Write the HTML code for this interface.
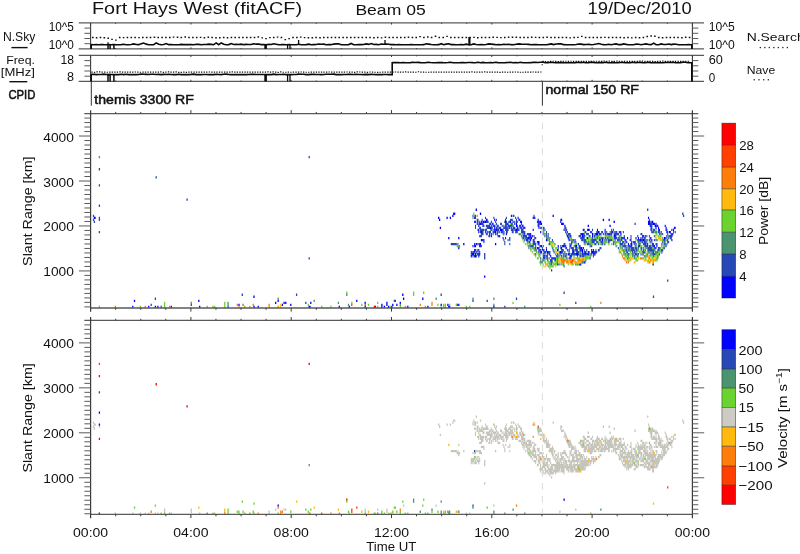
<!DOCTYPE html>
<html lang="en"><head><meta charset="utf-8"><title>Fort Hays West (fitACF) Beam 05 19/Dec/2010</title>
<style>
html,body{margin:0;padding:0;background:#fff;}
body{width:800px;height:554px;overflow:hidden;}
svg{display:block;}
svg text{font-family:"Liberation Sans",sans-serif;}
svg{will-change:transform;opacity:0.999;}
</style></head><body>
<svg width="800" height="554" viewBox="0 0 800 554">
<rect x="0" y="0" width="800" height="554" fill="#ffffff"/>
<defs><clipPath id="cp"><rect x="80" y="114.2" width="620" height="193"/><rect x="80" y="321" width="620" height="193"/></clipPath></defs>
<text x="92.00" y="14.40" font-size="17.4" textLength="210.0" lengthAdjust="spacingAndGlyphs" fill="#111" >Fort Hays West (fitACF)</text>
<text x="355.40" y="15.00" font-size="14.8" textLength="70.3" lengthAdjust="spacingAndGlyphs" fill="#111" >Beam 05</text>
<text x="587.60" y="14.40" font-size="16" textLength="104.0" lengthAdjust="spacingAndGlyphs" fill="#111" >19/Dec/2010</text>
<line x1="78.70" y1="22.90" x2="704.00" y2="22.90" stroke="#5a5a5a" stroke-width="1.1" />
<line x1="78.70" y1="48.90" x2="704.00" y2="48.90" stroke="#5a5a5a" stroke-width="1.1" />
<line x1="90.60" y1="22.90" x2="90.60" y2="48.90" stroke="#3a3a3a" stroke-width="1.1" />
<line x1="692.40" y1="22.90" x2="692.40" y2="48.90" stroke="#3a3a3a" stroke-width="1.1" />
<line x1="84.40" y1="28.10" x2="90.60" y2="28.10" stroke="#5a5a5a" stroke-width="1.0" />
<line x1="692.40" y1="28.10" x2="698.30" y2="28.10" stroke="#5a5a5a" stroke-width="1.0" />
<line x1="84.40" y1="33.30" x2="90.60" y2="33.30" stroke="#5a5a5a" stroke-width="1.0" />
<line x1="692.40" y1="33.30" x2="698.30" y2="33.30" stroke="#5a5a5a" stroke-width="1.0" />
<line x1="84.40" y1="38.50" x2="90.60" y2="38.50" stroke="#5a5a5a" stroke-width="1.0" />
<line x1="692.40" y1="38.50" x2="698.30" y2="38.50" stroke="#5a5a5a" stroke-width="1.0" />
<line x1="84.40" y1="43.70" x2="90.60" y2="43.70" stroke="#5a5a5a" stroke-width="1.0" />
<line x1="692.40" y1="43.70" x2="698.30" y2="43.70" stroke="#5a5a5a" stroke-width="1.0" />
<line x1="90.60" y1="22.90" x2="90.60" y2="24.50" stroke="#3a3a3a" stroke-width="1.0" />
<line x1="90.60" y1="48.90" x2="90.60" y2="47.30" stroke="#3a3a3a" stroke-width="1.0" />
<line x1="115.67" y1="22.90" x2="115.67" y2="23.80" stroke="#3a3a3a" stroke-width="1.0" />
<line x1="115.67" y1="48.90" x2="115.67" y2="48.00" stroke="#3a3a3a" stroke-width="1.0" />
<line x1="140.75" y1="22.90" x2="140.75" y2="23.80" stroke="#3a3a3a" stroke-width="1.0" />
<line x1="140.75" y1="48.90" x2="140.75" y2="48.00" stroke="#3a3a3a" stroke-width="1.0" />
<line x1="165.82" y1="22.90" x2="165.82" y2="23.80" stroke="#3a3a3a" stroke-width="1.0" />
<line x1="165.82" y1="48.90" x2="165.82" y2="48.00" stroke="#3a3a3a" stroke-width="1.0" />
<line x1="190.90" y1="22.90" x2="190.90" y2="24.50" stroke="#3a3a3a" stroke-width="1.0" />
<line x1="190.90" y1="48.90" x2="190.90" y2="47.30" stroke="#3a3a3a" stroke-width="1.0" />
<line x1="215.97" y1="22.90" x2="215.97" y2="23.80" stroke="#3a3a3a" stroke-width="1.0" />
<line x1="215.97" y1="48.90" x2="215.97" y2="48.00" stroke="#3a3a3a" stroke-width="1.0" />
<line x1="241.05" y1="22.90" x2="241.05" y2="23.80" stroke="#3a3a3a" stroke-width="1.0" />
<line x1="241.05" y1="48.90" x2="241.05" y2="48.00" stroke="#3a3a3a" stroke-width="1.0" />
<line x1="266.12" y1="22.90" x2="266.12" y2="23.80" stroke="#3a3a3a" stroke-width="1.0" />
<line x1="266.12" y1="48.90" x2="266.12" y2="48.00" stroke="#3a3a3a" stroke-width="1.0" />
<line x1="291.20" y1="22.90" x2="291.20" y2="24.50" stroke="#3a3a3a" stroke-width="1.0" />
<line x1="291.20" y1="48.90" x2="291.20" y2="47.30" stroke="#3a3a3a" stroke-width="1.0" />
<line x1="316.27" y1="22.90" x2="316.27" y2="23.80" stroke="#3a3a3a" stroke-width="1.0" />
<line x1="316.27" y1="48.90" x2="316.27" y2="48.00" stroke="#3a3a3a" stroke-width="1.0" />
<line x1="341.35" y1="22.90" x2="341.35" y2="23.80" stroke="#3a3a3a" stroke-width="1.0" />
<line x1="341.35" y1="48.90" x2="341.35" y2="48.00" stroke="#3a3a3a" stroke-width="1.0" />
<line x1="366.42" y1="22.90" x2="366.42" y2="23.80" stroke="#3a3a3a" stroke-width="1.0" />
<line x1="366.42" y1="48.90" x2="366.42" y2="48.00" stroke="#3a3a3a" stroke-width="1.0" />
<line x1="391.50" y1="22.90" x2="391.50" y2="24.50" stroke="#3a3a3a" stroke-width="1.0" />
<line x1="391.50" y1="48.90" x2="391.50" y2="47.30" stroke="#3a3a3a" stroke-width="1.0" />
<line x1="416.57" y1="22.90" x2="416.57" y2="23.80" stroke="#3a3a3a" stroke-width="1.0" />
<line x1="416.57" y1="48.90" x2="416.57" y2="48.00" stroke="#3a3a3a" stroke-width="1.0" />
<line x1="441.65" y1="22.90" x2="441.65" y2="23.80" stroke="#3a3a3a" stroke-width="1.0" />
<line x1="441.65" y1="48.90" x2="441.65" y2="48.00" stroke="#3a3a3a" stroke-width="1.0" />
<line x1="466.73" y1="22.90" x2="466.73" y2="23.80" stroke="#3a3a3a" stroke-width="1.0" />
<line x1="466.73" y1="48.90" x2="466.73" y2="48.00" stroke="#3a3a3a" stroke-width="1.0" />
<line x1="491.80" y1="22.90" x2="491.80" y2="24.50" stroke="#3a3a3a" stroke-width="1.0" />
<line x1="491.80" y1="48.90" x2="491.80" y2="47.30" stroke="#3a3a3a" stroke-width="1.0" />
<line x1="516.88" y1="22.90" x2="516.88" y2="23.80" stroke="#3a3a3a" stroke-width="1.0" />
<line x1="516.88" y1="48.90" x2="516.88" y2="48.00" stroke="#3a3a3a" stroke-width="1.0" />
<line x1="541.95" y1="22.90" x2="541.95" y2="23.80" stroke="#3a3a3a" stroke-width="1.0" />
<line x1="541.95" y1="48.90" x2="541.95" y2="48.00" stroke="#3a3a3a" stroke-width="1.0" />
<line x1="567.02" y1="22.90" x2="567.02" y2="23.80" stroke="#3a3a3a" stroke-width="1.0" />
<line x1="567.02" y1="48.90" x2="567.02" y2="48.00" stroke="#3a3a3a" stroke-width="1.0" />
<line x1="592.10" y1="22.90" x2="592.10" y2="24.50" stroke="#3a3a3a" stroke-width="1.0" />
<line x1="592.10" y1="48.90" x2="592.10" y2="47.30" stroke="#3a3a3a" stroke-width="1.0" />
<line x1="617.17" y1="22.90" x2="617.17" y2="23.80" stroke="#3a3a3a" stroke-width="1.0" />
<line x1="617.17" y1="48.90" x2="617.17" y2="48.00" stroke="#3a3a3a" stroke-width="1.0" />
<line x1="642.25" y1="22.90" x2="642.25" y2="23.80" stroke="#3a3a3a" stroke-width="1.0" />
<line x1="642.25" y1="48.90" x2="642.25" y2="48.00" stroke="#3a3a3a" stroke-width="1.0" />
<line x1="667.33" y1="22.90" x2="667.33" y2="23.80" stroke="#3a3a3a" stroke-width="1.0" />
<line x1="667.33" y1="48.90" x2="667.33" y2="48.00" stroke="#3a3a3a" stroke-width="1.0" />
<line x1="692.40" y1="22.90" x2="692.40" y2="24.50" stroke="#3a3a3a" stroke-width="1.0" />
<line x1="692.40" y1="48.90" x2="692.40" y2="47.30" stroke="#3a3a3a" stroke-width="1.0" />
<line x1="78.70" y1="55.40" x2="704.00" y2="55.40" stroke="#5a5a5a" stroke-width="1.1" />
<line x1="78.70" y1="81.40" x2="704.00" y2="81.40" stroke="#5a5a5a" stroke-width="1.1" />
<line x1="90.60" y1="55.40" x2="90.60" y2="81.40" stroke="#3a3a3a" stroke-width="1.1" />
<line x1="692.40" y1="55.40" x2="692.40" y2="81.40" stroke="#3a3a3a" stroke-width="1.1" />
<line x1="84.40" y1="60.60" x2="90.60" y2="60.60" stroke="#5a5a5a" stroke-width="1.0" />
<line x1="692.40" y1="60.60" x2="698.30" y2="60.60" stroke="#5a5a5a" stroke-width="1.0" />
<line x1="84.40" y1="65.80" x2="90.60" y2="65.80" stroke="#5a5a5a" stroke-width="1.0" />
<line x1="692.40" y1="65.80" x2="698.30" y2="65.80" stroke="#5a5a5a" stroke-width="1.0" />
<line x1="84.40" y1="71.00" x2="90.60" y2="71.00" stroke="#5a5a5a" stroke-width="1.0" />
<line x1="692.40" y1="71.00" x2="698.30" y2="71.00" stroke="#5a5a5a" stroke-width="1.0" />
<line x1="84.40" y1="76.20" x2="90.60" y2="76.20" stroke="#5a5a5a" stroke-width="1.0" />
<line x1="692.40" y1="76.20" x2="698.30" y2="76.20" stroke="#5a5a5a" stroke-width="1.0" />
<line x1="90.60" y1="55.40" x2="90.60" y2="57.00" stroke="#3a3a3a" stroke-width="1.0" />
<line x1="90.60" y1="81.40" x2="90.60" y2="79.80" stroke="#3a3a3a" stroke-width="1.0" />
<line x1="115.67" y1="55.40" x2="115.67" y2="56.30" stroke="#3a3a3a" stroke-width="1.0" />
<line x1="115.67" y1="81.40" x2="115.67" y2="80.50" stroke="#3a3a3a" stroke-width="1.0" />
<line x1="140.75" y1="55.40" x2="140.75" y2="56.30" stroke="#3a3a3a" stroke-width="1.0" />
<line x1="140.75" y1="81.40" x2="140.75" y2="80.50" stroke="#3a3a3a" stroke-width="1.0" />
<line x1="165.82" y1="55.40" x2="165.82" y2="56.30" stroke="#3a3a3a" stroke-width="1.0" />
<line x1="165.82" y1="81.40" x2="165.82" y2="80.50" stroke="#3a3a3a" stroke-width="1.0" />
<line x1="190.90" y1="55.40" x2="190.90" y2="57.00" stroke="#3a3a3a" stroke-width="1.0" />
<line x1="190.90" y1="81.40" x2="190.90" y2="79.80" stroke="#3a3a3a" stroke-width="1.0" />
<line x1="215.97" y1="55.40" x2="215.97" y2="56.30" stroke="#3a3a3a" stroke-width="1.0" />
<line x1="215.97" y1="81.40" x2="215.97" y2="80.50" stroke="#3a3a3a" stroke-width="1.0" />
<line x1="241.05" y1="55.40" x2="241.05" y2="56.30" stroke="#3a3a3a" stroke-width="1.0" />
<line x1="241.05" y1="81.40" x2="241.05" y2="80.50" stroke="#3a3a3a" stroke-width="1.0" />
<line x1="266.12" y1="55.40" x2="266.12" y2="56.30" stroke="#3a3a3a" stroke-width="1.0" />
<line x1="266.12" y1="81.40" x2="266.12" y2="80.50" stroke="#3a3a3a" stroke-width="1.0" />
<line x1="291.20" y1="55.40" x2="291.20" y2="57.00" stroke="#3a3a3a" stroke-width="1.0" />
<line x1="291.20" y1="81.40" x2="291.20" y2="79.80" stroke="#3a3a3a" stroke-width="1.0" />
<line x1="316.27" y1="55.40" x2="316.27" y2="56.30" stroke="#3a3a3a" stroke-width="1.0" />
<line x1="316.27" y1="81.40" x2="316.27" y2="80.50" stroke="#3a3a3a" stroke-width="1.0" />
<line x1="341.35" y1="55.40" x2="341.35" y2="56.30" stroke="#3a3a3a" stroke-width="1.0" />
<line x1="341.35" y1="81.40" x2="341.35" y2="80.50" stroke="#3a3a3a" stroke-width="1.0" />
<line x1="366.42" y1="55.40" x2="366.42" y2="56.30" stroke="#3a3a3a" stroke-width="1.0" />
<line x1="366.42" y1="81.40" x2="366.42" y2="80.50" stroke="#3a3a3a" stroke-width="1.0" />
<line x1="391.50" y1="55.40" x2="391.50" y2="57.00" stroke="#3a3a3a" stroke-width="1.0" />
<line x1="391.50" y1="81.40" x2="391.50" y2="79.80" stroke="#3a3a3a" stroke-width="1.0" />
<line x1="416.57" y1="55.40" x2="416.57" y2="56.30" stroke="#3a3a3a" stroke-width="1.0" />
<line x1="416.57" y1="81.40" x2="416.57" y2="80.50" stroke="#3a3a3a" stroke-width="1.0" />
<line x1="441.65" y1="55.40" x2="441.65" y2="56.30" stroke="#3a3a3a" stroke-width="1.0" />
<line x1="441.65" y1="81.40" x2="441.65" y2="80.50" stroke="#3a3a3a" stroke-width="1.0" />
<line x1="466.73" y1="55.40" x2="466.73" y2="56.30" stroke="#3a3a3a" stroke-width="1.0" />
<line x1="466.73" y1="81.40" x2="466.73" y2="80.50" stroke="#3a3a3a" stroke-width="1.0" />
<line x1="491.80" y1="55.40" x2="491.80" y2="57.00" stroke="#3a3a3a" stroke-width="1.0" />
<line x1="491.80" y1="81.40" x2="491.80" y2="79.80" stroke="#3a3a3a" stroke-width="1.0" />
<line x1="516.88" y1="55.40" x2="516.88" y2="56.30" stroke="#3a3a3a" stroke-width="1.0" />
<line x1="516.88" y1="81.40" x2="516.88" y2="80.50" stroke="#3a3a3a" stroke-width="1.0" />
<line x1="541.95" y1="55.40" x2="541.95" y2="56.30" stroke="#3a3a3a" stroke-width="1.0" />
<line x1="541.95" y1="81.40" x2="541.95" y2="80.50" stroke="#3a3a3a" stroke-width="1.0" />
<line x1="567.02" y1="55.40" x2="567.02" y2="56.30" stroke="#3a3a3a" stroke-width="1.0" />
<line x1="567.02" y1="81.40" x2="567.02" y2="80.50" stroke="#3a3a3a" stroke-width="1.0" />
<line x1="592.10" y1="55.40" x2="592.10" y2="57.00" stroke="#3a3a3a" stroke-width="1.0" />
<line x1="592.10" y1="81.40" x2="592.10" y2="79.80" stroke="#3a3a3a" stroke-width="1.0" />
<line x1="617.17" y1="55.40" x2="617.17" y2="56.30" stroke="#3a3a3a" stroke-width="1.0" />
<line x1="617.17" y1="81.40" x2="617.17" y2="80.50" stroke="#3a3a3a" stroke-width="1.0" />
<line x1="642.25" y1="55.40" x2="642.25" y2="56.30" stroke="#3a3a3a" stroke-width="1.0" />
<line x1="642.25" y1="81.40" x2="642.25" y2="80.50" stroke="#3a3a3a" stroke-width="1.0" />
<line x1="667.33" y1="55.40" x2="667.33" y2="56.30" stroke="#3a3a3a" stroke-width="1.0" />
<line x1="667.33" y1="81.40" x2="667.33" y2="80.50" stroke="#3a3a3a" stroke-width="1.0" />
<line x1="692.40" y1="55.40" x2="692.40" y2="57.00" stroke="#3a3a3a" stroke-width="1.0" />
<line x1="692.40" y1="81.40" x2="692.40" y2="79.80" stroke="#3a3a3a" stroke-width="1.0" />
<text x="73.90" y="31.00" font-size="13.2" text-anchor="end" textLength="25.2" lengthAdjust="spacingAndGlyphs" fill="#111" >10^5</text>
<text x="73.90" y="48.90" font-size="13.2" text-anchor="end" textLength="25.2" lengthAdjust="spacingAndGlyphs" fill="#111" >10^0</text>
<text x="73.90" y="63.80" font-size="13.4" text-anchor="end" textLength="13.5" lengthAdjust="spacingAndGlyphs" fill="#111" >18</text>
<text x="73.90" y="81.40" font-size="13.4" text-anchor="end" textLength="7.0" lengthAdjust="spacingAndGlyphs" fill="#111" >8</text>
<text x="2.90" y="41.40" font-size="12" textLength="32.5" lengthAdjust="spacingAndGlyphs" fill="#111" >N.Sky</text>
<line x1="11.40" y1="47.60" x2="27.60" y2="47.60" stroke="#111" stroke-width="1.4" />
<text x="6.20" y="64.20" font-size="11.5" textLength="28.7" lengthAdjust="spacingAndGlyphs" fill="#111" >Freq.</text>
<text x="0.80" y="76.20" font-size="11.5" textLength="34.1" lengthAdjust="spacingAndGlyphs" fill="#111" >[MHz]</text>
<line x1="9.40" y1="81.70" x2="27.30" y2="81.70" stroke="#111" stroke-width="1.4" />
<text x="8.40" y="99.20" font-size="12" textLength="27.0" lengthAdjust="spacingAndGlyphs" fill="#111" stroke="#111" stroke-width="0.5">CPID</text>
<text x="708.80" y="31.40" font-size="13.2" textLength="26.0" lengthAdjust="spacingAndGlyphs" fill="#111" >10^5</text>
<text x="708.80" y="48.90" font-size="13.2" textLength="26.0" lengthAdjust="spacingAndGlyphs" fill="#111" >10^0</text>
<text x="708.80" y="64.20" font-size="13.4" textLength="14.1" lengthAdjust="spacingAndGlyphs" fill="#111" >60</text>
<text x="708.80" y="81.50" font-size="13.4" textLength="6.5" lengthAdjust="spacingAndGlyphs" fill="#111" >0</text>
<text x="746.70" y="41.00" font-size="11.8" textLength="58.0" lengthAdjust="spacingAndGlyphs" fill="#111" >N.Search</text>
<text x="746.70" y="73.50" font-size="11.8" textLength="28.5" lengthAdjust="spacingAndGlyphs" fill="#111" >Nave</text>
<rect x="759.70" y="46.90" width="1.30" height="1.30" fill="#222" />
<rect x="764.20" y="46.90" width="1.30" height="1.30" fill="#222" />
<rect x="768.70" y="46.90" width="1.30" height="1.30" fill="#222" />
<rect x="773.20" y="46.90" width="1.30" height="1.30" fill="#222" />
<rect x="777.70" y="46.90" width="1.30" height="1.30" fill="#222" />
<rect x="782.20" y="46.90" width="1.30" height="1.30" fill="#222" />
<rect x="786.70" y="46.90" width="1.30" height="1.30" fill="#222" />
<rect x="753.60" y="79.10" width="1.30" height="1.30" fill="#222" />
<rect x="758.30" y="79.10" width="1.30" height="1.30" fill="#222" />
<rect x="763.00" y="79.10" width="1.30" height="1.30" fill="#222" />
<rect x="767.70" y="79.10" width="1.30" height="1.30" fill="#222" />
<path d="M91.2 44.67 L93.7 44.70 L96.2 44.45 L98.7 44.70 L101.2 44.56 L103.7 44.66 L106.2 44.70 L108.7 44.58 L111.2 44.70 L113.7 44.63 L116.2 44.70 L118.7 44.70 L121.2 44.63 L123.7 44.19 L126.2 44.70 L128.7 44.69 L131.2 44.48 L133.7 43.93 L136.2 44.53 L138.7 44.64 L141.2 43.86 L143.7 43.10 L146.2 44.13 L148.7 44.68 L151.2 44.70 L153.7 44.70 L156.2 42.90 L158.7 44.21 L161.2 44.69 L163.7 44.52 L166.2 43.50 L168.7 44.65 L171.2 44.55 L173.7 44.70 L176.2 44.70 L178.7 44.69 L181.2 44.42 L183.7 44.63 L186.2 44.67 L188.7 44.52 L191.2 44.62 L193.7 44.68 L196.2 44.25 L198.7 44.39 L201.2 44.69 L203.7 44.53 L206.2 44.57 L208.7 44.10 L211.2 44.35 L213.7 44.68 L216.2 42.90 L218.7 44.70 L221.2 42.90 L223.7 44.31 L226.2 44.70 L228.7 44.59 L231.2 43.50 L233.7 44.43 L236.2 44.30 L238.7 44.53 L241.2 44.10 L243.7 44.67 L246.2 44.40 L248.7 44.51 L251.2 44.52 L253.7 43.70 L256.2 44.17 L258.7 43.94 L261.2 44.60 L263.7 44.44 L266.2 44.70 L268.7 44.39 L271.2 44.46 L273.7 43.82 L276.2 44.20 L278.7 44.68 L281.2 44.65 L283.7 44.43 L286.2 44.70 L288.7 44.61 L291.2 44.70 L293.7 44.70 L296.2 44.70 L298.7 44.29 L301.2 44.70 L303.7 44.69 L306.2 44.65 L308.7 44.10 L311.2 44.70 L313.7 44.62 L316.2 44.55 L318.7 44.08 L321.2 44.21 L323.7 44.12 L326.2 44.68 L328.7 44.64 L331.2 44.66 L333.7 44.08 L336.2 43.91 L338.7 43.70 L341.2 44.70 L343.7 44.69 L346.2 44.69 L348.7 44.60 L351.2 43.50 L353.7 44.68 L356.2 44.70 L358.7 44.63 L361.2 44.65 L363.7 44.54 L366.2 43.92 L368.7 44.40 L371.2 43.50 L373.7 44.49 L376.2 44.42 L378.7 44.70 L381.2 44.04 L383.7 44.27 L386.2 44.10 L388.7 44.24 L391.2 44.65 L393.7 44.64 L396.2 44.70 L398.7 44.47 L401.2 44.70 L403.7 44.70 L406.2 44.69 L408.7 44.70 L411.2 44.66 L413.7 44.70 L416.2 44.70 L418.7 44.70 L421.2 44.70 L423.7 44.66 L426.2 43.70 L428.7 44.10 L431.2 44.49 L433.7 44.70 L436.2 44.69 L438.7 44.66 L441.2 43.70 L443.7 44.70 L446.2 44.15 L448.7 43.82 L451.2 44.61 L453.7 44.60 L456.2 44.70 L458.7 44.70 L461.2 44.66 L463.7 44.68 L466.2 44.19 L468.7 44.70 L471.2 44.70 L473.7 43.93 L476.2 44.57 L478.7 44.70 L481.2 44.56 L483.7 44.70 L486.2 44.57 L488.7 43.86 L491.2 44.12 L493.7 44.40 L496.2 44.68 L498.7 44.66 L501.2 44.70 L503.7 44.29 L506.2 44.56 L508.7 44.27 L511.2 44.67 L513.7 44.69 L516.2 44.22 L518.7 43.84 L521.2 44.14 L523.7 44.23 L526.2 44.21 L528.7 44.34 L531.2 44.69 L533.7 44.58 L536.2 44.66 L538.7 44.70 L541.2 44.70 L543.7 44.68 L546.2 44.68 L548.7 44.40 L551.2 43.91 L553.7 44.62 L556.2 43.96 L558.7 43.83 L561.2 43.92 L563.7 44.66 L566.2 44.69 L568.7 44.69 L571.2 44.69 L573.7 44.69 L576.2 44.48 L578.7 44.04 L581.2 44.17 L583.7 44.60 L586.2 44.45 L588.7 44.24 L591.2 44.70 L593.7 44.44 L596.2 44.02 L598.7 43.50 L601.2 44.32 L603.7 44.60 L606.2 44.69 L608.7 44.26 L611.2 44.67 L613.7 44.24 L616.2 43.87 L618.7 44.64 L621.2 44.64 L623.7 43.94 L626.2 44.36 L628.7 44.70 L631.2 44.70 L633.7 44.70 L636.2 44.03 L638.7 44.23 L641.2 44.70 L643.7 44.19 L646.2 43.85 L648.7 44.44 L651.2 44.66 L653.7 43.10 L656.2 44.70 L658.7 44.70 L661.2 43.88 L663.7 44.45 L666.2 44.57 L668.7 43.97 L671.2 44.63 L673.7 44.10 L676.2 44.19 L678.7 44.69 L681.2 44.69 L683.7 44.68 L686.2 44.69 L688.7 44.52 L691.2 44.68 L692.0 44.70" stroke="#0a0a0a" stroke-width="1.6" fill="none" stroke-linejoin="miter" />
<line x1="91.20" y1="44.10" x2="91.20" y2="48.90" stroke="#0a0a0a" stroke-width="1.6" />
<line x1="108.00" y1="44.10" x2="108.00" y2="48.90" stroke="#0a0a0a" stroke-width="1.5" />
<line x1="110.10" y1="44.10" x2="110.10" y2="48.90" stroke="#0a0a0a" stroke-width="1.5" />
<line x1="113.90" y1="44.10" x2="113.90" y2="48.90" stroke="#0a0a0a" stroke-width="1.5" />
<line x1="265.60" y1="44.10" x2="265.60" y2="48.90" stroke="#0a0a0a" stroke-width="2.6" />
<line x1="287.60" y1="44.10" x2="287.60" y2="48.90" stroke="#0a0a0a" stroke-width="1.3" />
<line x1="290.00" y1="44.10" x2="290.00" y2="48.90" stroke="#0a0a0a" stroke-width="1.3" />
<line x1="691.80" y1="44.10" x2="691.80" y2="48.90" stroke="#0a0a0a" stroke-width="1.6" />
<line x1="108.00" y1="42.20" x2="108.00" y2="44.70" stroke="#0a0a0a" stroke-width="1.2" />
<line x1="469.40" y1="37.00" x2="469.40" y2="45.30" stroke="#0a0a0a" stroke-width="2.2" />
<line x1="298.60" y1="40.00" x2="298.60" y2="44.70" stroke="#0a0a0a" stroke-width="1.3" />
<line x1="385.00" y1="40.00" x2="385.00" y2="44.70" stroke="#0a0a0a" stroke-width="1.3" />
<path d="M92.0 37.46h1.6M95.8 37.76h1.6M99.7 37.43h1.6M103.5 37.75h1.6M107.4 38.30h1.6M111.2 39.40h1.6M115.1 40.10h1.6M118.9 37.45h1.6M122.8 37.63h1.6M126.6 37.43h1.6M130.5 37.49h1.6M134.3 37.42h1.6M138.2 37.62h1.6M142.0 37.49h1.6M145.9 37.45h1.6M149.7 37.42h1.6M153.6 37.30h1.6M157.4 37.43h1.6M161.3 37.42h1.6M165.1 37.55h1.6M169.0 37.49h1.6M172.8 37.10h1.6M176.7 37.18h1.6M180.5 37.45h1.6M184.4 37.09h1.6M188.2 37.45h1.6M192.1 37.47h1.6M195.9 37.45h1.6M199.8 37.36h1.6M203.6 37.74h1.6M207.5 37.33h1.6M211.3 37.45h1.6M215.2 37.84h1.6M219.0 37.82h1.6M222.9 37.42h1.6M226.7 37.67h1.6M230.6 37.43h1.6M234.4 37.46h1.6M238.3 37.45h1.6M242.1 37.45h1.6M246.0 37.47h1.6M249.8 37.44h1.6M253.7 37.48h1.6M257.5 37.03h1.6M261.4 37.85h1.6M265.2 38.60h1.6M269.1 37.62h1.6M272.9 37.45h1.6M276.8 37.14h1.6M280.6 37.45h1.6M284.5 39.60h1.6M288.3 38.60h1.6M292.2 37.45h1.6M296.1 37.46h1.6M299.9 37.10h1.6M303.8 37.64h1.6M307.6 37.69h1.6M311.5 37.70h1.6M315.3 37.44h1.6M319.2 37.78h1.6M323.0 37.45h1.6M326.9 37.45h1.6M330.7 37.45h1.6M334.6 37.45h1.6M338.4 37.45h1.6M342.3 37.45h1.6M346.1 37.45h1.6M350.0 37.45h1.6M353.8 37.45h1.6M357.7 37.49h1.6M361.5 37.43h1.6M365.4 37.45h1.6M369.2 37.47h1.6M373.1 37.67h1.6M376.9 37.42h1.6M380.8 37.87h1.6M384.6 37.23h1.6M388.5 37.52h1.6M392.3 37.46h1.6M396.2 37.45h1.6M400.0 37.59h1.6M403.9 37.45h1.6M407.7 37.22h1.6M411.6 37.54h1.6M415.4 37.45h1.6M419.3 36.60h1.6M423.1 37.47h1.6M427.0 37.06h1.6M430.8 37.49h1.6M434.7 36.30h1.6M438.5 37.46h1.6M442.4 37.46h1.6M446.2 36.40h1.6M450.1 37.48h1.6M453.9 37.45h1.6M457.8 37.46h1.6M461.6 37.45h1.6M465.5 37.45h1.6M469.3 37.41h1.6M473.2 37.37h1.6M477.0 37.72h1.6M480.9 37.44h1.6M484.7 37.45h1.6M488.6 37.53h1.6M492.4 37.23h1.6M496.3 37.38h1.6M500.1 37.65h1.6M504.0 37.42h1.6M507.8 37.23h1.6M511.7 37.24h1.6M515.5 37.16h1.6M519.4 37.55h1.6M523.2 37.45h1.6M527.1 37.46h1.6M530.9 37.23h1.6M534.8 37.38h1.6M538.6 37.55h1.6M542.5 37.45h1.6M546.3 37.31h1.6M550.2 37.41h1.6M554.0 37.45h1.6M557.9 37.45h1.6M561.7 37.45h1.6M565.6 37.45h1.6M569.4 37.86h1.6M573.3 37.46h1.6M577.1 37.35h1.6M581.0 36.40h1.6M584.8 37.45h1.6M588.7 37.45h1.6M592.5 37.45h1.6M596.4 37.45h1.6M600.2 37.45h1.6M604.1 37.35h1.6M607.9 37.45h1.6M611.8 37.47h1.6M615.6 37.45h1.6M619.5 37.45h1.6M623.3 37.80h1.6M627.2 37.43h1.6M631.0 37.85h1.6M634.9 37.45h1.6M638.7 37.81h1.6M642.6 37.50h1.6M646.4 36.50h1.6M650.3 36.00h1.6M654.1 36.20h1.6M658.0 37.56h1.6M661.8 37.74h1.6M665.7 37.45h1.6M669.5 37.48h1.6M673.4 37.45h1.6M677.2 37.46h1.6M681.1 37.67h1.6M684.9 37.31h1.6M688.8 37.45h1.6" stroke="#111" stroke-width="1.44" fill="none"/>
<path d="M91.2 74.42 L93.7 74.23 L96.2 74.59 L98.7 74.57 L101.2 74.57 L103.7 74.10 L106.2 74.50 L108.7 74.58 L111.2 74.56 L113.7 74.59 L116.2 74.60 L118.7 74.60 L121.2 74.31 L123.7 74.59 L126.2 74.19 L128.7 74.59 L131.2 74.59 L133.7 74.53 L136.2 74.60 L138.7 74.57 L141.2 74.16 L143.7 74.25 L146.2 74.33 L148.7 74.47 L151.2 74.22 L153.7 74.18 L156.2 74.52 L158.7 74.41 L161.2 74.60 L163.7 74.40 L166.2 74.55 L168.7 74.39 L171.2 74.47 L173.7 74.59 L176.2 74.60 L178.7 74.20 L181.2 74.60 L183.7 74.55 L186.2 74.58 L188.7 74.59 L191.2 74.40 L193.7 74.13 L196.2 74.59 L198.7 74.46 L201.2 74.59 L203.7 74.51 L206.2 74.57 L208.7 74.60 L211.2 74.60 L213.7 74.60 L216.2 74.23 L218.7 74.54 L221.2 74.59 L223.7 74.23 L226.2 74.11 L228.7 74.55 L231.2 74.60 L233.7 74.60 L236.2 74.60 L238.7 74.58 L241.2 74.60 L243.7 74.59 L246.2 74.59 L248.7 74.51 L251.2 74.25 L253.7 74.39 L256.2 74.56 L258.7 74.56 L261.2 74.53 L263.7 74.57 L266.2 74.58 L268.7 74.60 L271.2 74.59 L273.7 74.15 L276.2 74.60 L278.7 74.54 L281.2 74.48 L283.7 74.28 L286.2 74.59 L288.7 74.59 L291.2 74.59 L293.7 74.57 L296.2 74.56 L298.7 74.17 L301.2 74.29 L303.7 74.27 L306.2 74.60 L308.7 74.60 L311.2 74.42 L313.7 74.24 L316.2 74.55 L318.7 74.50 L321.2 74.60 L323.7 74.57 L326.2 74.20 L328.7 74.32 L331.2 74.29 L333.7 74.14 L336.2 74.59 L338.7 74.60 L341.2 74.60 L343.7 74.53 L346.2 74.44 L348.7 74.18 L351.2 74.41 L353.7 74.46 L356.2 74.38 L358.7 74.55 L361.2 74.52 L363.7 74.60 L366.2 74.36 L368.7 74.59 L371.2 74.21 L373.7 74.47 L376.2 74.59 L378.7 74.60 L381.2 74.59 L383.7 74.47 L386.2 74.43 L388.7 74.60 L391.2 74.60 L391.6 74.60 L392.2 74.60 L392.2 62.70 L393.0 62.63 L395.5 62.60 L398.0 62.67 L400.5 62.69 L403.0 62.59 L405.5 62.70 L408.0 62.69 L410.5 62.65 L413.0 62.26 L415.5 62.57 L418.0 62.35 L420.5 62.65 L423.0 62.69 L425.5 62.69 L428.0 62.26 L430.5 62.53 L433.0 62.69 L435.5 62.70 L438.0 62.64 L440.5 62.55 L443.0 62.66 L445.5 62.69 L448.0 62.55 L450.5 62.30 L453.0 62.69 L455.5 62.70 L458.0 62.68 L460.5 62.66 L463.0 62.54 L465.5 62.70 L468.0 62.45 L470.5 62.50 L473.0 62.64 L475.5 62.70 L478.0 62.24 L480.5 62.68 L483.0 62.42 L485.5 62.69 L488.0 62.69 L490.5 62.48 L493.0 62.69 L495.5 62.27 L498.0 62.64 L500.5 62.70 L503.0 62.69 L505.5 62.66 L508.0 62.55 L510.5 62.27 L513.0 62.70 L515.5 62.67 L518.0 62.70 L520.5 62.24 L523.0 62.70 L525.5 62.70 L528.0 62.70 L530.5 62.67 L533.0 62.34 L535.5 62.36 L538.0 62.50 L540.5 62.20 L543.0 62.30 L545.5 62.68 L548.0 62.70 L550.5 62.29 L553.0 62.49 L555.5 62.70 L558.0 62.55 L560.5 62.67 L563.0 62.67 L565.5 62.68 L568.0 62.70 L570.5 62.70 L573.0 62.69 L575.5 62.68 L578.0 62.26 L580.5 62.70 L583.0 62.25 L585.5 62.70 L588.0 62.68 L590.5 62.42 L593.0 62.42 L595.5 62.66 L598.0 62.70 L600.5 62.65 L603.0 62.67 L605.5 62.31 L608.0 62.70 L610.5 62.68 L613.0 62.34 L615.5 62.70 L618.0 62.67 L620.5 62.43 L623.0 62.47 L625.5 62.70 L628.0 62.70 L630.5 62.70 L633.0 62.31 L635.5 62.69 L638.0 62.49 L640.5 62.34 L643.0 62.68 L645.5 62.69 L648.0 62.26 L650.5 62.58 L653.0 62.69 L655.5 62.52 L658.0 62.68 L660.5 62.69 L663.0 62.70 L665.5 62.48 L668.0 62.32 L670.5 62.57 L673.0 62.28 L675.5 62.70 L678.0 62.69 L680.5 62.65 L683.0 62.26 L685.5 62.27 L688.0 62.67 L690.5 62.69 L692.0 62.70" stroke="#0a0a0a" stroke-width="1.6" fill="none" stroke-linejoin="miter" />
<line x1="91.20" y1="74.00" x2="91.20" y2="81.40" stroke="#0a0a0a" stroke-width="1.6" />
<line x1="108.00" y1="74.00" x2="108.00" y2="81.40" stroke="#0a0a0a" stroke-width="1.5" />
<line x1="110.10" y1="74.00" x2="110.10" y2="81.40" stroke="#0a0a0a" stroke-width="1.5" />
<line x1="113.90" y1="74.00" x2="113.90" y2="81.40" stroke="#0a0a0a" stroke-width="1.5" />
<line x1="265.60" y1="74.00" x2="265.60" y2="81.40" stroke="#0a0a0a" stroke-width="2.6" />
<line x1="287.60" y1="74.00" x2="287.60" y2="81.40" stroke="#0a0a0a" stroke-width="1.3" />
<line x1="290.00" y1="74.00" x2="290.00" y2="81.40" stroke="#0a0a0a" stroke-width="1.3" />
<line x1="691.80" y1="62.10" x2="691.80" y2="81.40" stroke="#0a0a0a" stroke-width="1.6" />
<line x1="107.30" y1="74.60" x2="110.80" y2="74.60" stroke="#0a0a0a" stroke-width="1.6" />
<path d="M91.3 72.11h1.3M93.9 72.36h1.3M96.4 71.95h1.3M99.0 71.94h1.3M101.5 72.15h1.3M104.1 72.10h1.3M106.6 72.23h1.3M109.2 72.10h1.3M111.7 72.10h1.3M114.3 72.10h1.3M116.8 72.10h1.3M119.4 71.89h1.3M121.9 72.10h1.3M124.5 72.10h1.3M127.0 72.19h1.3M129.6 72.10h1.3M132.1 72.05h1.3M134.7 71.99h1.3M137.2 72.17h1.3M139.8 72.27h1.3M142.4 72.14h1.3M144.9 72.20h1.3M147.5 72.10h1.3M150.0 72.10h1.3M152.6 72.14h1.3M155.1 72.09h1.3M157.7 72.12h1.3M160.2 71.95h1.3M162.8 72.44h1.3M165.3 72.08h1.3M167.9 71.93h1.3M170.4 72.10h1.3M173.0 72.10h1.3M175.5 71.79h1.3M178.1 72.36h1.3M180.6 72.30h1.3M183.2 72.10h1.3M185.7 72.38h1.3M188.3 72.06h1.3M190.8 72.10h1.3M193.4 72.10h1.3M195.9 72.10h1.3M198.5 72.16h1.3M201.0 72.10h1.3M203.6 72.17h1.3M206.1 72.10h1.3M208.7 71.96h1.3M211.2 72.10h1.3M213.8 72.09h1.3M216.3 72.16h1.3M218.9 72.10h1.3M221.4 72.11h1.3M224.0 72.10h1.3M226.5 72.10h1.3M229.1 72.11h1.3M231.6 71.90h1.3M234.2 72.11h1.3M236.7 72.20h1.3M239.3 72.10h1.3M241.8 72.09h1.3M244.4 72.09h1.3M246.9 72.12h1.3M249.5 72.10h1.3M252.0 72.04h1.3M254.6 72.10h1.3M257.1 72.09h1.3M259.7 72.10h1.3M262.2 72.07h1.3M264.8 72.10h1.3M267.3 71.95h1.3M269.9 72.10h1.3M272.4 71.82h1.3M275.0 72.12h1.3M277.5 72.36h1.3M280.1 71.87h1.3M282.6 72.26h1.3M285.2 72.23h1.3M287.7 72.09h1.3M290.3 72.27h1.3M292.8 72.10h1.3M295.4 72.13h1.3M297.9 72.10h1.3M300.5 72.00h1.3M303.0 72.10h1.3M305.6 72.22h1.3M308.1 72.27h1.3M310.7 72.05h1.3M313.2 72.15h1.3M315.8 72.09h1.3M318.3 72.09h1.3M320.9 72.11h1.3M323.4 72.10h1.3M326.0 72.12h1.3M328.5 71.98h1.3M331.1 72.12h1.3M333.6 72.12h1.3M336.2 72.10h1.3M338.7 72.10h1.3M341.3 72.12h1.3M343.8 72.16h1.3M346.4 72.00h1.3M348.9 72.12h1.3M351.5 72.12h1.3M354.0 72.39h1.3M356.6 71.91h1.3M359.1 72.00h1.3M361.7 72.10h1.3M364.2 72.08h1.3M366.8 72.35h1.3M369.3 71.96h1.3M371.9 72.10h1.3M374.4 72.21h1.3M377.0 72.33h1.3M379.5 72.25h1.3M382.1 72.08h1.3M384.6 72.10h1.3M387.2 72.12h1.3M389.7 72.10h1.3M392.3 72.10h1.3M394.8 72.03h1.3M397.4 72.10h1.3M399.9 72.10h1.3M402.5 72.16h1.3M405.0 71.90h1.3M407.6 72.06h1.3M410.1 72.10h1.3M412.7 72.16h1.3M415.2 72.24h1.3M417.8 71.76h1.3M420.3 72.09h1.3M422.9 72.11h1.3M425.4 72.21h1.3M428.0 72.26h1.3M430.5 72.04h1.3M433.1 72.06h1.3M435.6 72.10h1.3M438.2 72.10h1.3M440.7 72.15h1.3M443.3 72.08h1.3M445.8 72.10h1.3M448.4 72.16h1.3M450.9 72.10h1.3M453.5 72.10h1.3M456.0 72.10h1.3M458.6 72.14h1.3M461.1 72.15h1.3M463.7 72.10h1.3M466.2 72.10h1.3M468.8 72.10h1.3M471.3 71.90h1.3M473.9 72.11h1.3M476.4 72.10h1.3M479.0 72.13h1.3M481.5 72.16h1.3M484.1 71.83h1.3M486.6 72.10h1.3M489.2 72.10h1.3M491.7 72.11h1.3M494.3 72.10h1.3M496.8 72.10h1.3M499.4 72.37h1.3M501.9 72.10h1.3M504.5 72.08h1.3M507.0 72.25h1.3M509.6 72.10h1.3M512.1 72.10h1.3M514.7 71.97h1.3M517.2 72.10h1.3M519.8 72.21h1.3M522.3 72.21h1.3M524.9 72.10h1.3M527.4 72.10h1.3M530.0 72.10h1.3M532.5 72.02h1.3M535.1 72.19h1.3M537.6 72.13h1.3M540.2 71.96h1.3" stroke="#111" stroke-width="1.17" fill="none"/>
<path d="M542.4 61.30h1.3M544.9 61.56h1.3M547.4 61.48h1.3M550.0 61.30h1.3M552.5 61.21h1.3M555.1 61.39h1.3M557.6 61.48h1.3M560.2 61.30h1.3M562.7 61.25h1.3M565.3 61.24h1.3M567.8 61.29h1.3M570.4 61.23h1.3M572.9 61.29h1.3M575.5 61.33h1.3M578.0 61.30h1.3M580.6 61.30h1.3M583.1 61.30h1.3M585.7 61.30h1.3M588.2 61.30h1.3M590.8 61.30h1.3M593.3 61.23h1.3M595.9 61.23h1.3M598.4 61.30h1.3M601.0 61.29h1.3M603.5 61.16h1.3M606.1 61.30h1.3M608.6 61.09h1.3M611.2 61.30h1.3M613.7 61.30h1.3M616.3 61.15h1.3M618.8 61.25h1.3M621.4 61.35h1.3M623.9 61.30h1.3M626.5 61.40h1.3M629.0 61.30h1.3M631.6 61.30h1.3M634.1 61.30h1.3M636.7 61.31h1.3M639.2 61.04h1.3M641.8 61.14h1.3M644.3 61.30h1.3M646.9 61.29h1.3M649.4 61.30h1.3M652.0 61.33h1.3M654.5 61.47h1.3M657.1 61.44h1.3M659.6 61.30h1.3M662.2 61.20h1.3M664.7 61.30h1.3M667.3 61.28h1.3M669.8 61.30h1.3M672.4 61.30h1.3M674.9 61.30h1.3M677.5 61.30h1.3M680.0 61.37h1.3M682.6 61.30h1.3M685.1 61.30h1.3M687.7 61.23h1.3" stroke="#111" stroke-width="1.17" fill="none"/>
<line x1="542.20" y1="61.50" x2="542.20" y2="65.50" stroke="#111" stroke-width="1.0" stroke-dasharray="1.2 1.4"/>
<line x1="91.30" y1="82.00" x2="91.30" y2="105.70" stroke="#333" stroke-width="1.0" />
<text x="94.30" y="103.60" font-size="12.6" textLength="99.5" lengthAdjust="spacingAndGlyphs" fill="#111" stroke="#111" stroke-width="0.5">themis 3300 RF</text>
<line x1="542.40" y1="82.00" x2="542.40" y2="105.70" stroke="#333" stroke-width="1.0" />
<text x="545.50" y="93.90" font-size="12.6" textLength="93.5" lengthAdjust="spacingAndGlyphs" fill="#111" stroke="#111" stroke-width="0.5">normal 150 RF</text>
<path d="M93.5 218.7v2.32M93.5 214.7v2.32M94.4 220.7v2.32M95.2 216.7v2.32M99.4 230.9v2.32M99.4 218.7v2.32M99.4 216.7v2.32M99.4 204.6v2.32M99.4 184.3v2.32M99.4 168.1v2.32M151.2 303.7v2.32M155.4 297.6v2.32M156.2 176.2v2.32M161.2 305.7v2.32M187.1 198.5v2.32M191.3 303.7v2.32M228.1 305.7v2.32M242.3 293.6v2.32M296.6 293.6v2.32M305.8 301.7v2.32M309.2 257.2v2.32M309.2 156.0v2.32M394.4 299.7v2.32M395.3 299.7v2.32M441.2 293.6v2.32M473.0 299.7v2.32M484.7 257.2v2.32M484.7 255.1v2.32M484.7 253.1v2.32M487.2 299.7v2.32M504.8 305.7v2.32M516.5 297.6v2.32M551.6 269.3v2.32M564.1 291.6v2.32M575.8 301.7v2.32M635.1 222.8v2.32M647.7 208.6v2.32M653.5 295.6v2.32M667.7 279.4v2.32M682.8 212.6v2.32M683.6 214.7v2.32" stroke="#2649b6" stroke-width="1.30" fill="none"/>
<path d="M94.4 216.7v2.32M132.8 305.7v2.32M134.5 299.7v2.32M148.7 305.7v2.32M155.4 305.7v2.32M157.9 305.7v2.32M171.3 305.7v2.32M198.8 299.7v2.32M199.7 305.7v2.32M239.0 303.7v2.32M254.0 305.7v2.32M254.0 295.6v2.32M258.2 305.7v2.32M275.7 301.7v2.32M278.2 299.7v2.32M282.4 303.7v2.32M284.1 301.7v2.32M285.8 301.7v2.32M290.8 303.7v2.32M309.2 305.7v2.32M310.0 305.7v2.32M310.8 301.7v2.32M339.3 305.7v2.32M349.3 305.7v2.32M356.8 299.7v2.32M365.2 305.7v2.32M365.2 301.7v2.32M375.2 305.7v2.32M381.9 305.7v2.32M381.9 303.7v2.32M384.4 305.7v2.32M386.9 303.7v2.32M386.9 301.7v2.32M388.6 305.7v2.32M391.9 305.7v2.32M392.8 303.7v2.32M396.9 303.7v2.32M400.3 301.7v2.32M402.8 293.6v2.32M403.6 297.6v2.32M407.8 305.7v2.32M422.8 297.6v2.32M427.9 305.7v2.32M438.7 216.7v2.32M439.6 218.7v2.32M440.4 226.8v2.32M441.2 303.7v2.32M447.1 216.7v2.32M447.9 303.7v2.32M448.8 305.7v2.32M448.8 236.9v2.32M449.6 305.7v2.32M450.4 216.7v2.32M452.9 214.7v2.32M453.8 212.6v2.32M454.6 212.6v2.32M457.1 303.7v2.32M458.8 303.7v2.32M458.8 247.0v2.32M458.8 236.9v2.32M463.8 243.0v2.32M476.3 208.6v2.32M480.5 212.6v2.32M484.7 275.4v2.32M493.9 305.7v2.32M495.6 243.0v2.32M553.2 214.7v2.32M561.6 218.7v2.32M588.3 224.8v2.32M603.4 218.7v2.32M609.2 218.7v2.32M610.1 224.8v2.32M614.2 220.7v2.32" stroke="#0000ff" stroke-width="1.30" fill="none"/>
<path d="M99.4 305.7v2.32M140.3 305.7v2.32M164.6 305.7v2.32M164.6 303.7v2.32M164.6 301.7v2.32M207.2 305.7v2.32M213.0 305.7v2.32M214.7 305.7v2.32M224.8 305.7v2.32M224.8 303.7v2.32M224.8 301.7v2.32M249.8 305.7v2.32M308.3 303.7v2.32M321.7 305.7v2.32M330.9 305.7v2.32M346.8 291.6v2.32M351.8 301.7v2.32M361.8 303.7v2.32M368.5 303.7v2.32M377.7 305.7v2.32M377.7 301.7v2.32M390.2 305.7v2.32M400.3 305.7v2.32M413.6 293.6v2.32M413.6 291.6v2.32M423.7 291.6v2.32M437.9 303.7v2.32M441.2 305.7v2.32M443.7 305.7v2.32M443.7 303.7v2.32M445.4 305.7v2.32M445.4 303.7v2.32M449.6 303.7v2.32M456.3 303.7v2.32M466.3 305.7v2.32M469.7 305.7v2.32M513.1 301.7v2.32M559.9 303.7v2.32M590.8 305.7v2.32" stroke="#6bd32f" stroke-width="1.30" fill="none"/>
<path d="M99.4 156.0v2.32M191.3 301.7v2.32M228.1 303.7v2.32M228.1 301.7v2.32M243.1 303.7v2.32M278.2 297.6v2.32M314.2 299.7v2.32M338.4 301.7v2.32M346.8 293.6v2.32M348.5 303.7v2.32M400.3 303.7v2.32M436.2 297.6v2.32M473.0 297.6v2.32M493.9 303.7v2.32M493.9 297.6v2.32M524.8 305.7v2.32" stroke="#4a9470" stroke-width="1.30" fill="none"/>
<path d="M115.3 305.7v2.32M145.3 305.7v2.32M169.6 305.7v2.32M237.3 303.7v2.32M239.0 305.7v2.32M244.8 305.7v2.32M253.2 303.7v2.32M269.1 305.7v2.32M269.1 303.7v2.32M278.2 305.7v2.32M405.3 305.7v2.32M420.3 303.7v2.32M425.4 305.7v2.32M432.0 303.7v2.32M432.0 301.7v2.32M477.2 214.7v2.32M600.9 301.7v2.32" stroke="#ff7d0a" stroke-width="1.30" fill="none"/>
<path d="M280.8 305.7v2.32M280.8 303.7v2.32" stroke="#ffb90f" stroke-width="1.30" fill="none"/>
<path d="M351.8 303.7v2.32M365.2 303.7v2.32" stroke="#ff4000" stroke-width="1.30" fill="none"/>
<path d="M374.4 305.7v2.32" stroke="#ff0000" stroke-width="1.30" fill="none"/>
<path d="M451.3 243.0v2.32M452.1 243.0v2.32M452.9 243.0v2.32M453.8 243.0v2.32M454.6 243.0v2.32M455.4 243.0v2.32M456.3 243.0v2.32M457.9 243.0v2.32M471.3 253.1v2.32M471.3 251.1v2.32M472.2 251.1v2.32M473.0 255.1v2.32M473.0 214.7v2.32M474.7 251.1v2.32M475.5 249.1v2.32M475.5 226.8v2.32M475.5 224.8v2.32M475.5 220.7v2.32M475.5 216.7v2.32M475.5 214.7v2.32M476.3 255.1v2.32M476.3 251.1v2.32M477.2 253.1v2.32M477.2 249.1v2.32M477.2 243.0v2.32M477.2 222.8v2.32M477.2 220.7v2.32M477.2 218.7v2.32M478.0 253.1v2.32M478.0 251.1v2.32M478.0 228.8v2.32M478.0 222.8v2.32M478.0 220.7v2.32M478.0 218.7v2.32M478.8 253.1v2.32M478.8 243.0v2.32M479.7 251.1v2.32M479.7 243.0v2.32M479.7 234.9v2.32M479.7 226.8v2.32M479.7 220.7v2.32M480.5 245.0v2.32M480.5 234.9v2.32M480.5 230.9v2.32M480.5 228.8v2.32M480.5 226.8v2.32M481.4 245.0v2.32M481.4 234.9v2.32M481.4 232.9v2.32M481.4 228.8v2.32M481.4 222.8v2.32M482.2 232.9v2.32M482.2 230.9v2.32M482.2 228.8v2.32M482.2 222.8v2.32M482.2 218.7v2.32M483.0 239.0v2.32M483.0 232.9v2.32M483.0 230.9v2.32M483.0 228.8v2.32M483.9 241.0v2.32M483.9 228.8v2.32M483.9 224.8v2.32M484.7 220.7v2.32M485.5 230.9v2.32M485.5 228.8v2.32M485.5 216.7v2.32M486.4 232.9v2.32M486.4 228.8v2.32M486.4 224.8v2.32M486.4 220.7v2.32M487.2 232.9v2.32M487.2 226.8v2.32M487.2 224.8v2.32M487.2 220.7v2.32M487.2 218.7v2.32M488.0 226.8v2.32M488.0 224.8v2.32M488.9 234.9v2.32M488.9 230.9v2.32M488.9 226.8v2.32M488.9 224.8v2.32M489.7 234.9v2.32M489.7 230.9v2.32M489.7 224.8v2.32M489.7 222.8v2.32M490.5 230.9v2.32M490.5 222.8v2.32M491.4 232.9v2.32M491.4 228.8v2.32M491.4 226.8v2.32M491.4 224.8v2.32M491.4 220.7v2.32M492.2 226.8v2.32M493.1 232.9v2.32M493.1 230.9v2.32M493.1 228.8v2.32M493.1 224.8v2.32M493.1 222.8v2.32M493.9 230.9v2.32M493.9 216.7v2.32M494.7 230.9v2.32M494.7 224.8v2.32M495.6 232.9v2.32M495.6 228.8v2.32M495.6 220.7v2.32M496.4 226.8v2.32M496.4 222.8v2.32M496.4 218.7v2.32M497.2 230.9v2.32M497.2 228.8v2.32M497.2 226.8v2.32M497.2 224.8v2.32M498.1 234.9v2.32M498.1 230.9v2.32M498.1 228.8v2.32M498.9 234.9v2.32M498.9 228.8v2.32M498.9 226.8v2.32M499.7 230.9v2.32M499.7 226.8v2.32M500.6 226.8v2.32M500.6 222.8v2.32M501.4 230.9v2.32M501.4 222.8v2.32M502.2 224.8v2.32M503.1 228.8v2.32M503.9 239.0v2.32M503.9 232.9v2.32M503.9 224.8v2.32M504.8 243.0v2.32M504.8 241.0v2.32M504.8 226.8v2.32M504.8 220.7v2.32M505.6 228.8v2.32M505.6 226.8v2.32M505.6 224.8v2.32M505.6 222.8v2.32M506.4 230.9v2.32M506.4 228.8v2.32M506.4 226.8v2.32M506.4 224.8v2.32M506.4 222.8v2.32M506.4 220.7v2.32M506.4 216.7v2.32M507.3 230.9v2.32M507.3 228.8v2.32M507.3 226.8v2.32M507.3 222.8v2.32M508.1 239.0v2.32M508.1 228.8v2.32M508.1 222.8v2.32M508.9 226.8v2.32M508.9 224.8v2.32M508.9 220.7v2.32M509.8 243.0v2.32M509.8 239.0v2.32M509.8 226.8v2.32M509.8 224.8v2.32M509.8 220.7v2.32M510.6 224.8v2.32M510.6 218.7v2.32M511.4 228.8v2.32M511.4 226.8v2.32M511.4 224.8v2.32M511.4 222.8v2.32M511.4 218.7v2.32M512.3 230.9v2.32M512.3 228.8v2.32M512.3 222.8v2.32M512.3 218.7v2.32M513.1 230.9v2.32M513.1 226.8v2.32M513.1 224.8v2.32M513.1 214.7v2.32M513.9 226.8v2.32M513.9 214.7v2.32M514.8 228.8v2.32M514.8 226.8v2.32M514.8 220.7v2.32M515.6 230.9v2.32M515.6 228.8v2.32M515.6 216.7v2.32M516.5 230.9v2.32M516.5 220.7v2.32M516.5 218.7v2.32M517.3 230.9v2.32M517.3 228.8v2.32M517.3 224.8v2.32M517.3 220.7v2.32M519.0 228.8v2.32M519.0 226.8v2.32M519.8 232.9v2.32M519.8 218.7v2.32M520.6 226.8v2.32M520.6 224.8v2.32M521.5 230.9v2.32M521.5 228.8v2.32M521.5 226.8v2.32M521.5 222.8v2.32M522.3 230.9v2.32M522.3 228.8v2.32M523.1 236.9v2.32M523.1 234.9v2.32M523.1 230.9v2.32M523.1 228.8v2.32M523.1 226.8v2.32M523.1 224.8v2.32M524.0 236.9v2.32M524.0 234.9v2.32M524.0 230.9v2.32M524.0 226.8v2.32M524.8 239.0v2.32M524.8 234.9v2.32M524.8 232.9v2.32M524.8 230.9v2.32M525.7 236.9v2.32M525.7 234.9v2.32M526.5 239.0v2.32M526.5 236.9v2.32M526.5 234.9v2.32M527.3 236.9v2.32M527.3 232.9v2.32M528.2 232.9v2.32M529.0 247.0v2.32M529.0 245.0v2.32M529.0 241.0v2.32M529.0 239.0v2.32M529.0 234.9v2.32M529.8 241.0v2.32M529.8 236.9v2.32M529.8 234.9v2.32M529.8 232.9v2.32M530.7 245.0v2.32M530.7 236.9v2.32M531.5 245.0v2.32M532.3 245.0v2.32M533.2 247.0v2.32M533.2 245.0v2.32M533.2 243.0v2.32M533.2 241.0v2.32M533.2 239.0v2.32M534.0 243.0v2.32M534.0 241.0v2.32M534.0 234.9v2.32M534.0 216.7v2.32M534.0 214.7v2.32M534.8 247.0v2.32M534.8 243.0v2.32M534.8 241.0v2.32M534.8 236.9v2.32M535.7 253.1v2.32M535.7 247.0v2.32M535.7 245.0v2.32M535.7 243.0v2.32M535.7 236.9v2.32M537.4 241.0v2.32M537.4 220.7v2.32M538.2 251.1v2.32M538.2 247.0v2.32M538.2 222.8v2.32M539.0 243.0v2.32M539.0 224.8v2.32M539.0 222.8v2.32M539.0 220.7v2.32M539.9 253.1v2.32M539.9 251.1v2.32M539.9 249.1v2.32M539.9 245.0v2.32M539.9 222.8v2.32M540.7 261.2v2.32M540.7 257.2v2.32M540.7 251.1v2.32M540.7 249.1v2.32M540.7 245.0v2.32M540.7 226.8v2.32M540.7 222.8v2.32M541.5 226.8v2.32M542.4 253.1v2.32M542.4 247.0v2.32M542.4 228.8v2.32M543.2 257.2v2.32M543.2 255.1v2.32M543.2 253.1v2.32M543.2 249.1v2.32M543.2 245.0v2.32M543.2 232.9v2.32M543.2 230.9v2.32M543.2 228.8v2.32M543.2 226.8v2.32M544.0 257.2v2.32M544.0 255.1v2.32M544.0 251.1v2.32M544.0 249.1v2.32M544.0 226.8v2.32M544.9 257.2v2.32M544.9 253.1v2.32M544.9 251.1v2.32M544.9 234.9v2.32M544.9 232.9v2.32M544.9 228.8v2.32M545.7 251.1v2.32M546.5 255.1v2.32M546.5 247.0v2.32M546.5 234.9v2.32M546.5 232.9v2.32M546.5 230.9v2.32M547.4 259.2v2.32M547.4 257.2v2.32M547.4 255.1v2.32M547.4 253.1v2.32M548.2 236.9v2.32M548.2 234.9v2.32M548.2 232.9v2.32M549.1 257.2v2.32M549.1 253.1v2.32M549.1 251.1v2.32M549.1 243.0v2.32M549.1 239.0v2.32M549.9 253.1v2.32M549.9 251.1v2.32M549.9 243.0v2.32M549.9 241.0v2.32M549.9 236.9v2.32M550.7 261.2v2.32M551.6 263.2v2.32M551.6 261.2v2.32M551.6 259.2v2.32M551.6 257.2v2.32M552.4 257.2v2.32M552.4 247.0v2.32M552.4 239.0v2.32M553.2 249.1v2.32M554.1 257.2v2.32M554.1 251.1v2.32M554.9 259.2v2.32M554.9 243.0v2.32M555.7 259.2v2.32M555.7 257.2v2.32M556.6 255.1v2.32M557.4 263.2v2.32M557.4 261.2v2.32M557.4 259.2v2.32M557.4 257.2v2.32M557.4 255.1v2.32M557.4 253.1v2.32M558.2 263.2v2.32M558.2 249.1v2.32M558.2 247.0v2.32M559.1 255.1v2.32M559.9 263.2v2.32M560.8 253.1v2.32M560.8 247.0v2.32M560.8 245.0v2.32M560.8 218.7v2.32M561.6 255.1v2.32M561.6 251.1v2.32M561.6 249.1v2.32M562.4 251.1v2.32M562.4 249.1v2.32M562.4 245.0v2.32M563.3 263.2v2.32M563.3 255.1v2.32M563.3 253.1v2.32M563.3 249.1v2.32M564.1 265.3v2.32M564.1 243.0v2.32M564.9 255.1v2.32M564.9 253.1v2.32M564.9 251.1v2.32M564.9 245.0v2.32M564.9 243.0v2.32M564.9 226.8v2.32M565.8 255.1v2.32M565.8 247.0v2.32M565.8 245.0v2.32M565.8 228.8v2.32M565.8 226.8v2.32M566.6 253.1v2.32M566.6 247.0v2.32M566.6 232.9v2.32M566.6 228.8v2.32M567.4 249.1v2.32M567.4 230.9v2.32M568.3 234.9v2.32M568.3 232.9v2.32M569.1 257.2v2.32M569.1 253.1v2.32M569.1 251.1v2.32M569.1 232.9v2.32M570.0 257.2v2.32M570.0 255.1v2.32M570.0 253.1v2.32M570.0 247.0v2.32M570.0 245.0v2.32M570.0 239.0v2.32M570.8 257.2v2.32M571.6 255.1v2.32M571.6 253.1v2.32M571.6 247.0v2.32M571.6 243.0v2.32M571.6 241.0v2.32M572.5 253.1v2.32M572.5 251.1v2.32M572.5 249.1v2.32M572.5 247.0v2.32M573.3 253.1v2.32M573.3 249.1v2.32M573.3 247.0v2.32M573.3 239.0v2.32M574.1 253.1v2.32M574.1 251.1v2.32M574.1 249.1v2.32M574.1 241.0v2.32M575.0 253.1v2.32M575.0 245.0v2.32M575.8 263.2v2.32M575.8 253.1v2.32M575.8 247.0v2.32M575.8 241.0v2.32M576.6 251.1v2.32M576.6 249.1v2.32M576.6 247.0v2.32M577.5 255.1v2.32M577.5 251.1v2.32M577.5 249.1v2.32M578.3 253.1v2.32M578.3 251.1v2.32M579.1 263.2v2.32M579.1 253.1v2.32M579.1 251.1v2.32M579.1 247.0v2.32M579.1 245.0v2.32M579.1 234.9v2.32M580.0 263.2v2.32M580.0 255.1v2.32M580.0 249.1v2.32M580.0 247.0v2.32M580.0 234.9v2.32M580.8 255.1v2.32M580.8 253.1v2.32M580.8 251.1v2.32M580.8 236.9v2.32M580.8 234.9v2.32M580.8 232.9v2.32M581.7 249.1v2.32M581.7 239.0v2.32M581.7 236.9v2.32M582.5 261.2v2.32M582.5 255.1v2.32M582.5 253.1v2.32M582.5 239.0v2.32M582.5 236.9v2.32M583.3 255.1v2.32M583.3 253.1v2.32M583.3 239.0v2.32M583.3 236.9v2.32M583.3 234.9v2.32M583.3 232.9v2.32M584.2 255.1v2.32M584.2 253.1v2.32M584.2 251.1v2.32M584.2 249.1v2.32M584.2 241.0v2.32M584.2 236.9v2.32M584.2 232.9v2.32M584.2 228.8v2.32M585.0 261.2v2.32M585.0 251.1v2.32M585.0 241.0v2.32M585.0 230.9v2.32M585.8 259.2v2.32M585.8 253.1v2.32M585.8 239.0v2.32M585.8 230.9v2.32M586.7 253.1v2.32M586.7 249.1v2.32M586.7 241.0v2.32M586.7 232.9v2.32M587.5 253.1v2.32M587.5 243.0v2.32M587.5 232.9v2.32M587.5 228.8v2.32M588.3 243.0v2.32M588.3 241.0v2.32M588.3 232.9v2.32M589.2 253.1v2.32M589.2 251.1v2.32M589.2 243.0v2.32M589.2 234.9v2.32M590.0 234.9v2.32M590.8 245.0v2.32M590.8 243.0v2.32M591.7 253.1v2.32M591.7 245.0v2.32M591.7 241.0v2.32M591.7 239.0v2.32M591.7 230.9v2.32M592.5 241.0v2.32M592.5 239.0v2.32M592.5 236.9v2.32M592.5 228.8v2.32M593.4 255.1v2.32M593.4 253.1v2.32M593.4 241.0v2.32M593.4 239.0v2.32M594.2 253.1v2.32M594.2 251.1v2.32M594.2 241.0v2.32M594.2 239.0v2.32M594.2 236.9v2.32M594.2 234.9v2.32M595.0 251.1v2.32M595.0 243.0v2.32M595.0 234.9v2.32M595.0 232.9v2.32M595.9 251.1v2.32M595.9 249.1v2.32M595.9 243.0v2.32M595.9 239.0v2.32M596.7 251.1v2.32M596.7 241.0v2.32M596.7 230.9v2.32M597.5 241.0v2.32M597.5 236.9v2.32M597.5 230.9v2.32M598.4 249.1v2.32M598.4 243.0v2.32M599.2 249.1v2.32M599.2 239.0v2.32M599.2 236.9v2.32M599.2 230.9v2.32M600.0 247.0v2.32M600.0 239.0v2.32M600.0 232.9v2.32M600.9 247.0v2.32M600.9 241.0v2.32M600.9 239.0v2.32M600.9 236.9v2.32M600.9 232.9v2.32M601.7 241.0v2.32M601.7 236.9v2.32M601.7 230.9v2.32M602.5 243.0v2.32M602.5 241.0v2.32M602.5 236.9v2.32M602.5 230.9v2.32M603.4 232.9v2.32M604.2 243.0v2.32M604.2 239.0v2.32M605.1 236.9v2.32M605.9 236.9v2.32M606.7 239.0v2.32M606.7 230.9v2.32M607.6 236.9v2.32M607.6 232.9v2.32M608.4 241.0v2.32M608.4 239.0v2.32M608.4 232.9v2.32M609.2 241.0v2.32M609.2 239.0v2.32M610.1 239.0v2.32M610.1 236.9v2.32M610.1 234.9v2.32M610.1 232.9v2.32M610.9 239.0v2.32M610.9 232.9v2.32M610.9 230.9v2.32M611.7 239.0v2.32M611.7 234.9v2.32M611.7 232.9v2.32M611.7 230.9v2.32M611.7 228.8v2.32M613.4 243.0v2.32M613.4 241.0v2.32M613.4 228.8v2.32M614.2 236.9v2.32M614.2 232.9v2.32M614.2 230.9v2.32M615.1 241.0v2.32M615.1 239.0v2.32M615.1 236.9v2.32M615.1 232.9v2.32M615.9 234.9v2.32M616.8 236.9v2.32M616.8 232.9v2.32M616.8 230.9v2.32M617.6 239.0v2.32M617.6 232.9v2.32M618.4 247.0v2.32M618.4 239.0v2.32M618.4 236.9v2.32M618.4 232.9v2.32M619.3 239.0v2.32M619.3 234.9v2.32M619.3 230.9v2.32M620.1 243.0v2.32M620.1 236.9v2.32M620.9 247.0v2.32M620.9 245.0v2.32M620.9 243.0v2.32M620.9 239.0v2.32M620.9 234.9v2.32M620.9 230.9v2.32M621.8 243.0v2.32M621.8 239.0v2.32M622.6 243.0v2.32M622.6 241.0v2.32M622.6 236.9v2.32M623.4 245.0v2.32M623.4 241.0v2.32M623.4 236.9v2.32M623.4 230.9v2.32M624.3 245.0v2.32M624.3 243.0v2.32M624.3 234.9v2.32M625.1 247.0v2.32M625.1 245.0v2.32M625.1 241.0v2.32M626.0 253.1v2.32M626.0 249.1v2.32M626.0 245.0v2.32M626.0 239.0v2.32M626.8 251.1v2.32M626.8 249.1v2.32M626.8 247.0v2.32M627.6 257.2v2.32M627.6 251.1v2.32M628.5 253.1v2.32M628.5 249.1v2.32M628.5 245.0v2.32M629.3 247.0v2.32M629.3 245.0v2.32M630.1 245.0v2.32M630.1 239.0v2.32M631.0 249.1v2.32M631.0 247.0v2.32M631.0 239.0v2.32M631.0 236.9v2.32M631.0 234.9v2.32M631.8 249.1v2.32M631.8 247.0v2.32M631.8 245.0v2.32M632.6 253.1v2.32M632.6 251.1v2.32M632.6 249.1v2.32M632.6 247.0v2.32M633.5 249.1v2.32M633.5 247.0v2.32M633.5 241.0v2.32M634.3 257.2v2.32M634.3 255.1v2.32M634.3 251.1v2.32M634.3 249.1v2.32M634.3 243.0v2.32M634.3 241.0v2.32M635.1 253.1v2.32M635.1 251.1v2.32M635.1 247.0v2.32M636.0 253.1v2.32M636.0 249.1v2.32M636.0 247.0v2.32M636.0 245.0v2.32M636.8 253.1v2.32M636.8 249.1v2.32M636.8 247.0v2.32M637.7 255.1v2.32M637.7 239.0v2.32M637.7 234.9v2.32M638.5 253.1v2.32M638.5 247.0v2.32M638.5 245.0v2.32M638.5 241.0v2.32M638.5 239.0v2.32M639.3 243.0v2.32M639.3 239.0v2.32M640.2 241.0v2.32M641.0 253.1v2.32M641.0 247.0v2.32M641.0 245.0v2.32M641.0 232.9v2.32M641.8 249.1v2.32M641.8 247.0v2.32M641.8 241.0v2.32M641.8 239.0v2.32M641.8 232.9v2.32M642.7 251.1v2.32M642.7 241.0v2.32M642.7 239.0v2.32M642.7 236.9v2.32M643.5 251.1v2.32M643.5 249.1v2.32M643.5 243.0v2.32M643.5 234.9v2.32M644.3 251.1v2.32M644.3 243.0v2.32M644.3 241.0v2.32M644.3 239.0v2.32M644.3 236.9v2.32M645.2 251.1v2.32M645.2 249.1v2.32M645.2 245.0v2.32M645.2 243.0v2.32M645.2 239.0v2.32M645.2 236.9v2.32M646.0 245.0v2.32M646.0 243.0v2.32M646.8 245.0v2.32M646.8 241.0v2.32M646.8 239.0v2.32M646.8 234.9v2.32M647.7 253.1v2.32M647.7 247.0v2.32M647.7 245.0v2.32M648.5 249.1v2.32M648.5 247.0v2.32M649.4 249.1v2.32M649.4 247.0v2.32M649.4 245.0v2.32M649.4 239.0v2.32M649.4 234.9v2.32M649.4 218.7v2.32M650.2 253.1v2.32M650.2 249.1v2.32M650.2 247.0v2.32M650.2 245.0v2.32M650.2 241.0v2.32M650.2 222.8v2.32M650.2 220.7v2.32M651.0 251.1v2.32M651.0 249.1v2.32M651.0 247.0v2.32M651.0 245.0v2.32M651.0 239.0v2.32M651.0 236.9v2.32M651.0 226.8v2.32M651.0 224.8v2.32M651.0 222.8v2.32M651.9 249.1v2.32M651.9 247.0v2.32M651.9 241.0v2.32M651.9 239.0v2.32M651.9 228.8v2.32M651.9 226.8v2.32M651.9 224.8v2.32M651.9 222.8v2.32M652.7 253.1v2.32M652.7 251.1v2.32M652.7 249.1v2.32M652.7 245.0v2.32M652.7 222.8v2.32M653.5 263.2v2.32M653.5 255.1v2.32M653.5 253.1v2.32M653.5 251.1v2.32M653.5 249.1v2.32M653.5 245.0v2.32M653.5 243.0v2.32M653.5 230.9v2.32M653.5 228.8v2.32M654.4 253.1v2.32M654.4 247.0v2.32M654.4 239.0v2.32M654.4 234.9v2.32M654.4 228.8v2.32M655.2 253.1v2.32M655.2 247.0v2.32M656.0 247.0v2.32M656.0 243.0v2.32M656.0 239.0v2.32M656.9 224.8v2.32M657.7 257.2v2.32M657.7 251.1v2.32M658.5 249.1v2.32M658.5 247.0v2.32M658.5 230.9v2.32M658.5 228.8v2.32M659.4 253.1v2.32M659.4 249.1v2.32M659.4 247.0v2.32M659.4 232.9v2.32M659.4 230.9v2.32M661.1 249.1v2.32M661.1 232.9v2.32M661.9 251.1v2.32M661.9 249.1v2.32M661.9 243.0v2.32M662.7 249.1v2.32M662.7 241.0v2.32M662.7 232.9v2.32M663.6 239.0v2.32M664.4 247.0v2.32M664.4 243.0v2.32M664.4 241.0v2.32M664.4 239.0v2.32M665.2 243.0v2.32M665.2 239.0v2.32M666.1 245.0v2.32M666.9 243.0v2.32M666.9 239.0v2.32M666.9 236.9v2.32M666.9 228.8v2.32M667.7 241.0v2.32M667.7 239.0v2.32M667.7 232.9v2.32M667.7 230.9v2.32M668.6 241.0v2.32M668.6 236.9v2.32M669.4 234.9v2.32M670.3 236.9v2.32M670.3 234.9v2.32M671.1 234.9v2.32M671.1 232.9v2.32M671.9 232.9v2.32M673.6 230.9v2.32M675.3 230.9v2.32M675.3 226.8v2.32" stroke="#2649b6" stroke-width="1.08" fill="none"/>
<path d="M457.1 245.0v2.32M458.8 245.0v2.32M473.8 212.6v2.32M495.6 224.8v2.32M510.6 222.8v2.32M523.1 239.0v2.32M524.0 241.0v2.32M525.7 243.0v2.32M527.3 243.0v2.32M529.0 243.0v2.32M529.8 243.0v2.32M530.7 249.1v2.32M532.3 251.1v2.32M532.3 243.0v2.32M534.0 249.1v2.32M534.0 247.0v2.32M535.7 255.1v2.32M536.5 251.1v2.32M537.4 257.2v2.32M538.2 257.2v2.32M538.2 253.1v2.32M539.0 255.1v2.32M539.0 253.1v2.32M539.9 261.2v2.32M539.9 255.1v2.32M540.7 263.2v2.32M542.4 265.3v2.32M543.2 263.2v2.32M544.0 232.9v2.32M544.0 230.9v2.32M544.9 261.2v2.32M544.9 259.2v2.32M545.7 263.2v2.32M545.7 261.2v2.32M545.7 257.2v2.32M545.7 232.9v2.32M547.4 263.2v2.32M547.4 234.9v2.32M548.2 265.3v2.32M548.2 261.2v2.32M548.2 259.2v2.32M548.2 239.0v2.32M549.1 263.2v2.32M549.1 236.9v2.32M549.9 267.3v2.32M549.9 263.2v2.32M549.9 261.2v2.32M550.7 265.3v2.32M550.7 243.0v2.32M550.7 241.0v2.32M551.6 265.3v2.32M551.6 245.0v2.32M551.6 241.0v2.32M552.4 265.3v2.32M552.4 245.0v2.32M552.4 241.0v2.32M553.2 265.3v2.32M553.2 263.2v2.32M553.2 247.0v2.32M554.1 263.2v2.32M554.1 261.2v2.32M554.1 245.0v2.32M554.1 243.0v2.32M554.9 263.2v2.32M554.9 249.1v2.32M555.7 263.2v2.32M555.7 261.2v2.32M555.7 247.0v2.32M556.6 263.2v2.32M556.6 261.2v2.32M556.6 259.2v2.32M556.6 257.2v2.32M556.6 247.0v2.32M558.2 261.2v2.32M558.2 257.2v2.32M559.1 257.2v2.32M559.9 261.2v2.32M559.9 255.1v2.32M561.6 263.2v2.32M562.4 263.2v2.32M562.4 257.2v2.32M564.1 263.2v2.32M564.1 257.2v2.32M565.8 257.2v2.32M567.4 257.2v2.32M567.4 232.9v2.32M568.3 263.2v2.32M570.0 236.9v2.32M570.8 236.9v2.32M571.6 257.2v2.32M571.6 236.9v2.32M572.5 263.2v2.32M573.3 263.2v2.32M573.3 241.0v2.32M574.1 257.2v2.32M575.0 243.0v2.32M575.8 243.0v2.32M576.6 263.2v2.32M576.6 257.2v2.32M576.6 243.0v2.32M577.5 257.2v2.32M577.5 247.0v2.32M578.3 263.2v2.32M578.3 257.2v2.32M578.3 247.0v2.32M579.1 257.2v2.32M580.0 261.2v2.32M580.0 257.2v2.32M580.0 251.1v2.32M581.7 259.2v2.32M583.3 261.2v2.32M583.3 259.2v2.32M584.2 259.2v2.32M584.2 243.0v2.32M584.2 230.9v2.32M585.0 257.2v2.32M585.0 255.1v2.32M585.8 257.2v2.32M585.8 243.0v2.32M585.8 234.9v2.32M586.7 257.2v2.32M586.7 255.1v2.32M586.7 239.0v2.32M586.7 236.9v2.32M587.5 257.2v2.32M587.5 255.1v2.32M588.3 257.2v2.32M588.3 255.1v2.32M588.3 239.0v2.32M588.3 236.9v2.32M589.2 241.0v2.32M589.2 239.0v2.32M589.2 236.9v2.32M590.0 253.1v2.32M590.0 241.0v2.32M590.8 255.1v2.32M590.8 241.0v2.32M590.8 236.9v2.32M591.7 243.0v2.32M591.7 236.9v2.32M592.5 243.0v2.32M593.4 232.9v2.32M595.0 236.9v2.32M596.7 236.9v2.32M598.4 241.0v2.32M598.4 236.9v2.32M598.4 234.9v2.32M599.2 241.0v2.32M599.2 234.9v2.32M600.0 243.0v2.32M600.9 243.0v2.32M600.9 234.9v2.32M603.4 241.0v2.32M604.2 241.0v2.32M605.1 239.0v2.32M605.1 234.9v2.32M605.9 241.0v2.32M605.9 234.9v2.32M606.7 241.0v2.32M606.7 234.9v2.32M607.6 234.9v2.32M608.4 243.0v2.32M608.4 234.9v2.32M609.2 236.9v2.32M610.9 236.9v2.32M610.9 234.9v2.32M611.7 243.0v2.32M611.7 236.9v2.32M612.6 239.0v2.32M612.6 236.9v2.32M613.4 239.0v2.32M615.9 245.0v2.32M615.9 243.0v2.32M615.9 241.0v2.32M616.8 241.0v2.32M617.6 241.0v2.32M618.4 241.0v2.32M619.3 251.1v2.32M619.3 249.1v2.32M620.1 251.1v2.32M620.1 247.0v2.32M620.1 234.9v2.32M620.9 251.1v2.32M620.9 236.9v2.32M621.8 247.0v2.32M622.6 249.1v2.32M622.6 239.0v2.32M623.4 253.1v2.32M623.4 251.1v2.32M624.3 253.1v2.32M624.3 249.1v2.32M625.1 255.1v2.32M625.1 251.1v2.32M626.0 257.2v2.32M626.0 255.1v2.32M626.8 255.1v2.32M626.8 253.1v2.32M627.6 255.1v2.32M627.6 249.1v2.32M627.6 247.0v2.32M627.6 245.0v2.32M628.5 259.2v2.32M628.5 257.2v2.32M629.3 257.2v2.32M629.3 253.1v2.32M630.1 259.2v2.32M630.1 257.2v2.32M630.1 255.1v2.32M630.1 253.1v2.32M630.1 251.1v2.32M631.0 251.1v2.32M631.8 253.1v2.32M633.5 255.1v2.32M633.5 251.1v2.32M635.1 257.2v2.32M636.0 259.2v2.32M636.0 257.2v2.32M636.0 239.0v2.32M636.8 259.2v2.32M636.8 257.2v2.32M636.8 245.0v2.32M637.7 259.2v2.32M637.7 247.0v2.32M637.7 241.0v2.32M638.5 255.1v2.32M638.5 249.1v2.32M639.3 251.1v2.32M640.2 251.1v2.32M640.2 249.1v2.32M640.2 245.0v2.32M641.0 241.0v2.32M641.8 253.1v2.32M641.8 251.1v2.32M641.8 245.0v2.32M642.7 257.2v2.32M643.5 257.2v2.32M644.3 249.1v2.32M645.2 259.2v2.32M645.2 257.2v2.32M646.0 257.2v2.32M646.0 253.1v2.32M646.0 247.0v2.32M646.8 253.1v2.32M647.7 255.1v2.32M647.7 251.1v2.32M648.5 259.2v2.32M649.4 255.1v2.32M649.4 241.0v2.32M651.0 253.1v2.32M651.0 243.0v2.32M651.9 257.2v2.32M652.7 257.2v2.32M652.7 255.1v2.32M652.7 247.0v2.32M653.5 261.2v2.32M653.5 259.2v2.32M653.5 247.0v2.32M654.4 255.1v2.32M654.4 230.9v2.32M655.2 259.2v2.32M655.2 255.1v2.32M655.2 249.1v2.32M655.2 234.9v2.32M656.0 259.2v2.32M656.0 257.2v2.32M656.0 236.9v2.32M656.0 232.9v2.32M656.9 259.2v2.32M656.9 257.2v2.32M656.9 255.1v2.32M656.9 253.1v2.32M656.9 232.9v2.32M657.7 253.1v2.32M657.7 239.0v2.32M658.5 255.1v2.32M658.5 253.1v2.32M658.5 251.1v2.32M658.5 234.9v2.32M659.4 251.1v2.32M659.4 236.9v2.32M660.2 249.1v2.32M660.2 239.0v2.32M660.2 234.9v2.32M661.1 247.0v2.32M661.1 234.9v2.32M661.9 239.0v2.32M662.7 247.0v2.32M662.7 239.0v2.32M663.6 245.0v2.32M663.6 243.0v2.32M663.6 241.0v2.32M664.4 245.0v2.32M666.1 239.0v2.32M667.7 236.9v2.32" stroke="#6bd32f" stroke-width="1.08" fill="none"/>
<path d="M457.9 245.0v2.32M459.6 245.0v2.32M473.0 251.1v2.32M473.0 216.7v2.32M474.7 214.7v2.32M490.5 228.8v2.32M503.1 232.9v2.32M512.3 224.8v2.32M519.0 232.9v2.32M520.6 232.9v2.32M521.5 234.9v2.32M522.3 236.9v2.32M522.3 232.9v2.32M527.3 241.0v2.32M528.2 245.0v2.32M528.2 241.0v2.32M529.8 245.0v2.32M530.7 247.0v2.32M530.7 243.0v2.32M532.3 247.0v2.32M534.8 253.1v2.32M534.8 249.1v2.32M535.7 249.1v2.32M536.5 249.1v2.32M540.7 259.2v2.32M541.5 261.2v2.32M542.4 261.2v2.32M542.4 259.2v2.32M542.4 226.8v2.32M543.2 259.2v2.32M544.0 259.2v2.32M546.5 257.2v2.32M546.5 236.9v2.32M547.4 239.0v2.32M547.4 236.9v2.32M549.1 265.3v2.32M549.1 261.2v2.32M550.7 263.2v2.32M552.4 261.2v2.32M552.4 259.2v2.32M553.2 241.0v2.32M555.7 253.1v2.32M558.2 255.1v2.32M558.2 253.1v2.32M559.9 253.1v2.32M563.3 257.2v2.32M564.1 251.1v2.32M565.8 253.1v2.32M566.6 257.2v2.32M566.6 255.1v2.32M569.1 236.9v2.32M569.1 234.9v2.32M570.0 234.9v2.32M571.6 239.0v2.32M572.5 241.0v2.32M572.5 239.0v2.32M574.1 255.1v2.32M574.1 245.0v2.32M577.5 263.2v2.32M581.7 261.2v2.32M581.7 255.1v2.32M581.7 253.1v2.32M584.2 239.0v2.32M585.0 243.0v2.32M585.8 255.1v2.32M585.8 241.0v2.32M590.0 255.1v2.32M590.0 245.0v2.32M590.0 243.0v2.32M590.8 253.1v2.32M590.8 239.0v2.32M594.2 243.0v2.32M595.9 236.9v2.32M596.7 239.0v2.32M596.7 234.9v2.32M597.5 234.9v2.32M601.7 243.0v2.32M603.4 236.9v2.32M605.1 243.0v2.32M605.1 241.0v2.32M605.1 232.9v2.32M605.9 239.0v2.32M608.4 236.9v2.32M609.2 234.9v2.32M610.1 230.9v2.32M614.2 241.0v2.32M615.1 243.0v2.32M616.8 245.0v2.32M619.3 236.9v2.32M620.1 245.0v2.32M622.6 247.0v2.32M622.6 245.0v2.32M623.4 249.1v2.32M624.3 251.1v2.32M625.1 253.1v2.32M625.1 249.1v2.32M625.1 243.0v2.32M627.6 253.1v2.32M628.5 255.1v2.32M628.5 247.0v2.32M629.3 249.1v2.32M630.1 249.1v2.32M632.6 255.1v2.32M633.5 253.1v2.32M635.1 245.0v2.32M636.0 255.1v2.32M636.8 251.1v2.32M637.7 253.1v2.32M637.7 249.1v2.32M638.5 243.0v2.32M639.3 241.0v2.32M640.2 243.0v2.32M642.7 253.1v2.32M643.5 253.1v2.32M643.5 247.0v2.32M644.3 255.1v2.32M644.3 245.0v2.32M645.2 255.1v2.32M645.2 247.0v2.32M646.8 255.1v2.32M646.8 247.0v2.32M647.7 249.1v2.32M647.7 239.0v2.32M648.5 251.1v2.32M649.4 251.1v2.32M651.0 255.1v2.32M651.9 253.1v2.32M651.9 251.1v2.32M652.7 263.2v2.32M652.7 230.9v2.32M654.4 249.1v2.32M655.2 251.1v2.32M655.2 230.9v2.32M656.0 253.1v2.32M656.0 251.1v2.32M656.0 230.9v2.32M656.0 228.8v2.32M656.9 251.1v2.32M656.9 239.0v2.32M656.9 230.9v2.32M657.7 255.1v2.32M657.7 249.1v2.32M660.2 247.0v2.32M660.2 232.9v2.32M661.1 251.1v2.32M661.9 245.0v2.32M662.7 236.9v2.32M663.6 247.0v2.32M665.2 245.0v2.32M665.2 241.0v2.32M668.6 234.9v2.32" stroke="#4a9470" stroke-width="1.08" fill="none"/>
<path d="M471.3 255.1v2.32M472.2 253.1v2.32M473.0 253.1v2.32M473.0 245.0v2.32M473.8 253.1v2.32M473.8 251.1v2.32M474.7 255.1v2.32M474.7 249.1v2.32M474.7 245.0v2.32M474.7 243.0v2.32M474.7 220.7v2.32M474.7 216.7v2.32M475.5 255.1v2.32M475.5 253.1v2.32M475.5 245.0v2.32M476.3 243.0v2.32M478.8 255.1v2.32M478.8 249.1v2.32M478.8 230.9v2.32M478.8 228.8v2.32M478.8 224.8v2.32M479.7 253.1v2.32M479.7 245.0v2.32M479.7 222.8v2.32M480.5 243.0v2.32M480.5 222.8v2.32M481.4 239.0v2.32M481.4 230.9v2.32M481.4 220.7v2.32M482.2 239.0v2.32M483.0 224.8v2.32M483.0 222.8v2.32M483.0 220.7v2.32M483.9 239.0v2.32M483.9 220.7v2.32M485.5 220.7v2.32M486.4 218.7v2.32M487.2 230.9v2.32M488.0 220.7v2.32M489.7 232.9v2.32M489.7 226.8v2.32M490.5 226.8v2.32M491.4 234.9v2.32M492.2 222.8v2.32M493.9 224.8v2.32M494.7 228.8v2.32M494.7 226.8v2.32M494.7 218.7v2.32M495.6 230.9v2.32M496.4 228.8v2.32M497.2 232.9v2.32M498.1 224.8v2.32M499.7 234.9v2.32M500.6 228.8v2.32M501.4 228.8v2.32M502.2 230.9v2.32M502.2 228.8v2.32M503.1 236.9v2.32M503.9 230.9v2.32M503.9 226.8v2.32M505.6 236.9v2.32M505.6 220.7v2.32M505.6 218.7v2.32M506.4 232.9v2.32M508.1 224.8v2.32M509.8 236.9v2.32M510.6 220.7v2.32M511.4 214.7v2.32M513.1 228.8v2.32M513.1 220.7v2.32M514.8 222.8v2.32M516.5 228.8v2.32M516.5 224.8v2.32M516.5 222.8v2.32M517.3 226.8v2.32M518.1 228.8v2.32M518.1 216.7v2.32M519.0 218.7v2.32M519.8 224.8v2.32M520.6 220.7v2.32M521.5 220.7v2.32M522.3 224.8v2.32M524.0 232.9v2.32M524.8 226.8v2.32M527.3 239.0v2.32M528.2 236.9v2.32M529.0 236.9v2.32M529.0 232.9v2.32M530.7 239.0v2.32M530.7 234.9v2.32M530.7 232.9v2.32M531.5 236.9v2.32M532.3 234.9v2.32M533.2 228.8v2.32M533.2 216.7v2.32M534.0 239.0v2.32M534.8 216.7v2.32M537.4 247.0v2.32M538.2 243.0v2.32M538.2 241.0v2.32M538.2 224.8v2.32M538.2 220.7v2.32M538.2 218.7v2.32M539.0 249.1v2.32M539.0 247.0v2.32M539.0 241.0v2.32M539.0 226.8v2.32M539.9 220.7v2.32M540.7 230.9v2.32M540.7 220.7v2.32M541.5 251.1v2.32M541.5 245.0v2.32M541.5 222.8v2.32M542.4 249.1v2.32M544.9 255.1v2.32M546.5 249.1v2.32M546.5 239.0v2.32M547.4 251.1v2.32M548.2 251.1v2.32M550.7 259.2v2.32M550.7 255.1v2.32M553.2 257.2v2.32M554.9 257.2v2.32M557.4 249.1v2.32M558.2 245.0v2.32M559.9 251.1v2.32M560.8 251.1v2.32M560.8 220.7v2.32M561.6 247.0v2.32M561.6 222.8v2.32M562.4 222.8v2.32M563.3 245.0v2.32M563.3 222.8v2.32M564.1 245.0v2.32M564.1 228.8v2.32M564.9 224.8v2.32M565.8 230.9v2.32M567.4 234.9v2.32M568.3 253.1v2.32M568.3 236.9v2.32M569.1 249.1v2.32M569.1 239.0v2.32M570.0 243.0v2.32M570.0 232.9v2.32M570.8 255.1v2.32M570.8 245.0v2.32M570.8 234.9v2.32M573.3 251.1v2.32M575.0 239.0v2.32M575.8 249.1v2.32M575.8 245.0v2.32M576.6 253.1v2.32M576.6 245.0v2.32M577.5 253.1v2.32M578.3 243.0v2.32M580.0 245.0v2.32M580.8 263.2v2.32M580.8 249.1v2.32M580.8 247.0v2.32M581.7 247.0v2.32M581.7 232.9v2.32M582.5 251.1v2.32M582.5 249.1v2.32M582.5 234.9v2.32M582.5 232.9v2.32M583.3 247.0v2.32M583.3 228.8v2.32M584.2 261.2v2.32M584.2 234.9v2.32M585.0 253.1v2.32M585.0 239.0v2.32M585.8 251.1v2.32M587.5 236.9v2.32M588.3 253.1v2.32M588.3 251.1v2.32M588.3 228.8v2.32M589.2 228.8v2.32M590.0 257.2v2.32M590.8 230.9v2.32M591.7 251.1v2.32M591.7 249.1v2.32M592.5 251.1v2.32M592.5 234.9v2.32M592.5 232.9v2.32M593.4 251.1v2.32M593.4 249.1v2.32M595.0 253.1v2.32M595.0 239.0v2.32M595.9 232.9v2.32M596.7 232.9v2.32M597.5 232.9v2.32M597.5 228.8v2.32M598.4 230.9v2.32M599.2 232.9v2.32M602.5 239.0v2.32M605.1 230.9v2.32M605.1 228.8v2.32M605.9 232.9v2.32M609.2 232.9v2.32M612.6 230.9v2.32M614.2 234.9v2.32M615.1 234.9v2.32M615.9 236.9v2.32M615.9 232.9v2.32M615.9 230.9v2.32M620.1 241.0v2.32M620.1 230.9v2.32M620.9 232.9v2.32M621.8 236.9v2.32M624.3 236.9v2.32M625.1 239.0v2.32M626.8 241.0v2.32M627.6 236.9v2.32M628.5 243.0v2.32M631.0 245.0v2.32M631.0 243.0v2.32M631.8 243.0v2.32M631.8 241.0v2.32M635.1 241.0v2.32M636.0 243.0v2.32M636.0 236.9v2.32M638.5 236.9v2.32M639.3 245.0v2.32M640.2 239.0v2.32M641.0 239.0v2.32M641.0 236.9v2.32M642.7 234.9v2.32M643.5 239.0v2.32M645.2 241.0v2.32M645.2 234.9v2.32M647.7 243.0v2.32M648.5 222.8v2.32M648.5 220.7v2.32M648.5 216.7v2.32M649.4 222.8v2.32M649.4 220.7v2.32M650.2 236.9v2.32M650.2 224.8v2.32M651.0 228.8v2.32M651.9 230.9v2.32M651.9 220.7v2.32M652.7 243.0v2.32M652.7 220.7v2.32M653.5 222.8v2.32M654.4 245.0v2.32M654.4 222.8v2.32M655.2 224.8v2.32M656.0 226.8v2.32M656.0 224.8v2.32M656.0 222.8v2.32M656.9 245.0v2.32M656.9 243.0v2.32M657.7 224.8v2.32M658.5 226.8v2.32M659.4 228.8v2.32M661.1 230.9v2.32M664.4 236.9v2.32M665.2 236.9v2.32M665.2 224.8v2.32M666.1 228.8v2.32M666.1 226.8v2.32M666.9 234.9v2.32M666.9 230.9v2.32M669.4 230.9v2.32M670.3 230.9v2.32M671.1 236.9v2.32M671.9 239.0v2.32M671.9 234.9v2.32M671.9 228.8v2.32M672.8 232.9v2.32M673.6 228.8v2.32M674.4 226.8v2.32" stroke="#0000ff" stroke-width="1.08" fill="none"/>
<path d="M529.8 247.0v2.32M531.5 249.1v2.32M534.0 253.1v2.32M544.0 265.3v2.32M545.7 265.3v2.32M546.5 263.2v2.32M551.6 243.0v2.32M552.4 243.0v2.32M555.7 265.3v2.32M555.7 251.1v2.32M556.6 251.1v2.32M558.2 259.2v2.32M558.2 251.1v2.32M559.1 261.2v2.32M559.1 259.2v2.32M559.9 259.2v2.32M559.9 257.2v2.32M560.8 259.2v2.32M566.6 259.2v2.32M568.3 259.2v2.32M569.1 259.2v2.32M570.0 263.2v2.32M571.6 263.2v2.32M573.3 257.2v2.32M574.1 261.2v2.32M575.0 261.2v2.32M575.0 259.2v2.32M575.0 257.2v2.32M575.8 257.2v2.32M576.6 261.2v2.32M577.5 261.2v2.32M577.5 259.2v2.32M578.3 261.2v2.32M578.3 259.2v2.32M579.1 261.2v2.32M580.0 259.2v2.32M580.8 261.2v2.32M580.8 257.2v2.32M581.7 257.2v2.32M582.5 257.2v2.32M584.2 257.2v2.32M601.7 234.9v2.32M607.6 241.0v2.32M609.2 243.0v2.32M620.9 249.1v2.32M621.8 249.1v2.32M625.1 257.2v2.32M626.8 259.2v2.32M627.6 259.2v2.32M629.3 259.2v2.32M631.0 259.2v2.32M631.0 257.2v2.32M631.0 255.1v2.32M631.8 257.2v2.32M632.6 257.2v2.32M634.3 261.2v2.32M635.1 261.2v2.32M638.5 257.2v2.32M644.3 259.2v2.32M646.0 251.1v2.32M646.8 259.2v2.32M647.7 261.2v2.32M647.7 259.2v2.32M648.5 261.2v2.32M648.5 257.2v2.32M648.5 255.1v2.32M650.2 261.2v2.32M650.2 257.2v2.32M651.9 259.2v2.32M652.7 261.2v2.32M652.7 259.2v2.32M653.5 257.2v2.32M654.4 259.2v2.32M654.4 257.2v2.32M656.0 255.1v2.32M656.9 234.9v2.32M658.5 236.9v2.32M659.4 234.9v2.32M660.2 236.9v2.32M661.1 239.0v2.32M661.1 236.9v2.32" stroke="#ffb90f" stroke-width="1.08" fill="none"/>
<path d="M560.8 257.2v2.32M561.6 261.2v2.32M561.6 259.2v2.32M561.6 257.2v2.32M562.4 261.2v2.32M562.4 259.2v2.32M563.3 261.2v2.32M563.3 259.2v2.32M564.1 261.2v2.32M564.9 259.2v2.32M565.8 259.2v2.32M566.6 261.2v2.32M567.4 261.2v2.32M567.4 259.2v2.32M568.3 261.2v2.32M570.0 261.2v2.32M570.0 259.2v2.32M570.8 261.2v2.32M570.8 259.2v2.32M571.6 259.2v2.32M572.5 261.2v2.32M573.3 259.2v2.32M574.1 259.2v2.32M575.8 261.2v2.32M580.8 259.2v2.32M582.5 259.2v2.32M583.3 257.2v2.32M621.8 253.1v2.32M622.6 255.1v2.32M623.4 257.2v2.32M624.3 257.2v2.32M625.1 259.2v2.32M628.5 261.2v2.32M640.2 257.2v2.32M641.0 257.2v2.32M641.8 257.2v2.32M649.4 261.2v2.32M649.4 257.2v2.32M650.2 259.2v2.32M651.0 259.2v2.32" stroke="#ff7d0a" stroke-width="1.08" fill="none"/>
<path d="M564.1 259.2v2.32M571.6 261.2v2.32M572.5 259.2v2.32M579.1 259.2v2.32M626.8 261.2v2.32" stroke="#ff4000" stroke-width="1.08" fill="none"/>
<path d="M93.5 425.6v2.32M93.5 421.5v2.32M94.4 427.6v2.32M94.4 423.5v2.32M95.2 423.5v2.32M99.4 425.6v2.32M132.8 512.6v2.32M140.3 512.6v2.32M145.3 512.6v2.32M148.7 512.6v2.32M155.4 512.6v2.32M157.9 512.6v2.32M164.6 510.6v2.32M164.6 508.5v2.32M171.3 512.6v2.32M191.3 510.6v2.32M191.3 508.5v2.32M269.1 512.6v2.32M269.1 510.6v2.32M275.7 508.5v2.32M284.1 508.5v2.32M285.8 508.5v2.32M365.2 510.6v2.32M365.2 508.5v2.32M377.7 508.5v2.32M386.9 510.6v2.32M386.9 508.5v2.32M388.6 512.6v2.32M403.6 504.5v2.32M436.2 504.5v2.32M438.7 423.5v2.32M439.6 425.6v2.32M440.4 433.7v2.32M447.1 423.5v2.32M450.4 423.5v2.32M452.9 421.5v2.32M453.8 419.5v2.32M454.6 419.5v2.32M458.8 453.9v2.32M458.8 443.8v2.32M463.8 449.9v2.32M466.3 512.6v2.32M469.7 512.6v2.32M476.3 415.5v2.32M477.2 421.5v2.32M480.5 419.5v2.32M484.7 482.2v2.32M484.7 464.0v2.32M484.7 462.0v2.32M484.7 460.0v2.32M493.9 504.5v2.32M495.6 449.9v2.32M551.6 476.2v2.32M553.2 421.5v2.32M559.9 510.6v2.32M561.6 425.6v2.32M575.8 508.5v2.32M588.3 431.6v2.32M603.4 425.6v2.32M609.2 425.6v2.32M610.1 431.6v2.32M614.2 427.6v2.32M635.1 429.6v2.32M647.7 415.5v2.32M682.8 419.5v2.32M683.6 421.5v2.32" stroke="#c6c5bc" stroke-width="1.30" fill="none"/>
<path d="M99.4 512.6v2.32M99.4 423.5v2.32M99.4 411.4v2.32M278.2 504.5v2.32M564.1 498.4v2.32" stroke="#0000ff" stroke-width="1.30" fill="none"/>
<path d="M99.4 437.7v2.32M99.4 375.0v2.32M156.2 383.1v2.32M187.1 405.3v2.32M309.2 362.8v2.32M346.8 498.4v2.32" stroke="#ff0000" stroke-width="1.30" fill="none"/>
<path d="M99.4 391.2v2.32M473.0 504.5v2.32" stroke="#2649b6" stroke-width="1.30" fill="none"/>
<path d="M99.4 362.8v2.32M321.7 512.6v2.32M351.8 510.6v2.32M351.8 508.5v2.32M356.8 506.5v2.32M667.7 486.3v2.32" stroke="#ff4000" stroke-width="1.30" fill="none"/>
<path d="M115.3 512.6v2.32M198.8 506.5v2.32M199.7 512.6v2.32M214.7 512.6v2.32M224.8 510.6v2.32M224.8 508.5v2.32M296.6 500.4v2.32M309.2 512.6v2.32M314.2 506.5v2.32M338.4 508.5v2.32M349.3 512.6v2.32M361.8 510.6v2.32M368.5 510.6v2.32M390.2 512.6v2.32M400.3 512.6v2.32M443.7 510.6v2.32M445.4 512.6v2.32M448.8 443.8v2.32M456.3 510.6v2.32M457.1 510.6v2.32M653.5 502.5v2.32" stroke="#ffb90f" stroke-width="1.30" fill="none"/>
<path d="M134.5 506.5v2.32M155.4 504.5v2.32M161.2 512.6v2.32M164.6 512.6v2.32M169.6 512.6v2.32M213.0 512.6v2.32M228.1 512.6v2.32M228.1 510.6v2.32M228.1 508.5v2.32M237.3 510.6v2.32M239.0 512.6v2.32M239.0 510.6v2.32M242.3 500.4v2.32M243.1 510.6v2.32M244.8 512.6v2.32M253.2 510.6v2.32M254.0 512.6v2.32M254.0 502.5v2.32M278.2 512.6v2.32M290.8 510.6v2.32M305.8 508.5v2.32M308.3 510.6v2.32M310.8 508.5v2.32M346.8 500.4v2.32M348.5 510.6v2.32M365.2 512.6v2.32M374.4 512.6v2.32M375.2 512.6v2.32M381.9 512.6v2.32M381.9 510.6v2.32M384.4 512.6v2.32M391.9 512.6v2.32M392.8 510.6v2.32M394.4 506.5v2.32M395.3 506.5v2.32M396.9 510.6v2.32M400.3 510.6v2.32M402.8 500.4v2.32M405.3 512.6v2.32M407.8 512.6v2.32M422.8 504.5v2.32M423.7 498.4v2.32M425.4 512.6v2.32M427.9 512.6v2.32M432.0 510.6v2.32M437.9 510.6v2.32M443.7 512.6v2.32M445.4 510.6v2.32M487.2 506.5v2.32M590.8 512.6v2.32" stroke="#6bd32f" stroke-width="1.30" fill="none"/>
<path d="M151.2 510.6v2.32M224.8 512.6v2.32M249.8 512.6v2.32M258.2 512.6v2.32M278.2 506.5v2.32M280.8 512.6v2.32M280.8 510.6v2.32M282.4 510.6v2.32M310.0 512.6v2.32M330.9 512.6v2.32M339.3 512.6v2.32M400.3 508.5v2.32M516.5 504.5v2.32" stroke="#ff7d0a" stroke-width="1.30" fill="none"/>
<path d="M207.2 512.6v2.32M309.2 464.0v2.32M377.7 512.6v2.32M413.6 500.4v2.32M413.6 498.4v2.32M420.3 510.6v2.32M432.0 508.5v2.32M441.2 512.6v2.32M441.2 510.6v2.32M441.2 500.4v2.32M447.9 510.6v2.32M448.8 512.6v2.32M449.6 512.6v2.32M449.6 510.6v2.32M458.8 510.6v2.32M473.0 506.5v2.32M493.9 512.6v2.32M493.9 510.6v2.32M504.8 512.6v2.32M513.1 508.5v2.32M524.8 512.6v2.32M600.9 508.5v2.32" stroke="#4a9470" stroke-width="1.30" fill="none"/>
<path d="M451.3 449.9v2.32M452.1 449.9v2.32M452.9 449.9v2.32M453.8 449.9v2.32M454.6 449.9v2.32M455.4 449.9v2.32M456.3 449.9v2.32M457.1 451.9v2.32M457.9 451.9v2.32M457.9 449.9v2.32M458.8 451.9v2.32M459.6 451.9v2.32M471.3 462.0v2.32M471.3 460.0v2.32M471.3 457.9v2.32M472.2 460.0v2.32M472.2 457.9v2.32M473.0 462.0v2.32M473.0 460.0v2.32M473.0 457.9v2.32M473.0 451.9v2.32M473.0 423.5v2.32M473.0 421.5v2.32M473.8 460.0v2.32M473.8 457.9v2.32M473.8 419.5v2.32M474.7 462.0v2.32M474.7 457.9v2.32M474.7 451.9v2.32M474.7 427.6v2.32M474.7 423.5v2.32M474.7 421.5v2.32M475.5 462.0v2.32M475.5 460.0v2.32M475.5 455.9v2.32M475.5 451.9v2.32M475.5 433.7v2.32M475.5 431.6v2.32M475.5 427.6v2.32M475.5 423.5v2.32M475.5 421.5v2.32M476.3 462.0v2.32M476.3 457.9v2.32M476.3 449.9v2.32M477.2 460.0v2.32M477.2 455.9v2.32M477.2 449.9v2.32M477.2 429.6v2.32M477.2 427.6v2.32M477.2 425.6v2.32M478.0 460.0v2.32M478.0 457.9v2.32M478.0 429.6v2.32M478.0 427.6v2.32M478.0 425.6v2.32M478.8 462.0v2.32M478.8 460.0v2.32M478.8 455.9v2.32M478.8 449.9v2.32M478.8 437.7v2.32M478.8 435.7v2.32M478.8 431.6v2.32M479.7 460.0v2.32M479.7 457.9v2.32M479.7 451.9v2.32M479.7 449.9v2.32M479.7 441.8v2.32M479.7 433.7v2.32M479.7 429.6v2.32M479.7 427.6v2.32M480.5 451.9v2.32M480.5 449.9v2.32M480.5 441.8v2.32M480.5 437.7v2.32M480.5 435.7v2.32M480.5 433.7v2.32M480.5 429.6v2.32M481.4 451.9v2.32M481.4 445.8v2.32M481.4 441.8v2.32M481.4 439.7v2.32M481.4 437.7v2.32M481.4 435.7v2.32M481.4 429.6v2.32M481.4 427.6v2.32M482.2 445.8v2.32M482.2 439.7v2.32M482.2 437.7v2.32M482.2 435.7v2.32M482.2 429.6v2.32M482.2 425.6v2.32M483.0 445.8v2.32M483.0 439.7v2.32M483.0 437.7v2.32M483.0 435.7v2.32M483.0 431.6v2.32M483.0 429.6v2.32M483.0 427.6v2.32M483.9 447.8v2.32M483.9 445.8v2.32M483.9 435.7v2.32M483.9 431.6v2.32M483.9 427.6v2.32M484.7 427.6v2.32M485.5 437.7v2.32M485.5 435.7v2.32M485.5 427.6v2.32M485.5 423.5v2.32M486.4 439.7v2.32M486.4 435.7v2.32M486.4 431.6v2.32M486.4 427.6v2.32M486.4 425.6v2.32M487.2 439.7v2.32M487.2 437.7v2.32M487.2 433.7v2.32M487.2 431.6v2.32M487.2 427.6v2.32M487.2 425.6v2.32M488.0 433.7v2.32M488.0 431.6v2.32M488.0 427.6v2.32M488.9 441.8v2.32M488.9 437.7v2.32M488.9 433.7v2.32M488.9 431.6v2.32M489.7 441.8v2.32M489.7 439.7v2.32M489.7 437.7v2.32M489.7 433.7v2.32M489.7 431.6v2.32M489.7 429.6v2.32M490.5 437.7v2.32M490.5 435.7v2.32M490.5 433.7v2.32M490.5 429.6v2.32M491.4 441.8v2.32M491.4 439.7v2.32M491.4 435.7v2.32M491.4 433.7v2.32M491.4 431.6v2.32M491.4 427.6v2.32M492.2 433.7v2.32M492.2 429.6v2.32M493.1 439.7v2.32M493.1 437.7v2.32M493.1 435.7v2.32M493.1 431.6v2.32M493.1 429.6v2.32M493.9 437.7v2.32M493.9 431.6v2.32M494.7 437.7v2.32M494.7 435.7v2.32M494.7 433.7v2.32M494.7 431.6v2.32M494.7 425.6v2.32M495.6 439.7v2.32M495.6 437.7v2.32M495.6 435.7v2.32M495.6 431.6v2.32M495.6 427.6v2.32M496.4 435.7v2.32M496.4 433.7v2.32M496.4 429.6v2.32M496.4 425.6v2.32M497.2 439.7v2.32M497.2 437.7v2.32M497.2 435.7v2.32M497.2 433.7v2.32M497.2 431.6v2.32M498.1 441.8v2.32M498.1 437.7v2.32M498.1 435.7v2.32M498.1 431.6v2.32M498.9 441.8v2.32M498.9 435.7v2.32M498.9 433.7v2.32M499.7 441.8v2.32M499.7 437.7v2.32M499.7 433.7v2.32M500.6 435.7v2.32M500.6 433.7v2.32M500.6 429.6v2.32M501.4 437.7v2.32M501.4 435.7v2.32M501.4 429.6v2.32M502.2 437.7v2.32M502.2 435.7v2.32M502.2 431.6v2.32M503.1 443.8v2.32M503.1 439.7v2.32M503.1 435.7v2.32M503.9 445.8v2.32M503.9 439.7v2.32M503.9 437.7v2.32M503.9 433.7v2.32M503.9 431.6v2.32M504.8 449.9v2.32M504.8 447.8v2.32M504.8 433.7v2.32M504.8 427.6v2.32M505.6 443.8v2.32M505.6 435.7v2.32M505.6 433.7v2.32M505.6 431.6v2.32M505.6 429.6v2.32M505.6 427.6v2.32M506.4 439.7v2.32M506.4 437.7v2.32M506.4 435.7v2.32M506.4 433.7v2.32M506.4 431.6v2.32M506.4 429.6v2.32M506.4 427.6v2.32M506.4 423.5v2.32M507.3 437.7v2.32M507.3 435.7v2.32M507.3 433.7v2.32M507.3 429.6v2.32M508.1 445.8v2.32M508.1 435.7v2.32M508.1 431.6v2.32M508.1 429.6v2.32M508.9 433.7v2.32M508.9 431.6v2.32M508.9 427.6v2.32M509.8 449.9v2.32M509.8 445.8v2.32M509.8 443.8v2.32M509.8 433.7v2.32M509.8 431.6v2.32M509.8 427.6v2.32M510.6 431.6v2.32M510.6 429.6v2.32M510.6 427.6v2.32M510.6 425.6v2.32M511.4 435.7v2.32M511.4 433.7v2.32M511.4 431.6v2.32M511.4 429.6v2.32M511.4 425.6v2.32M511.4 421.5v2.32M512.3 437.7v2.32M512.3 431.6v2.32M512.3 429.6v2.32M512.3 425.6v2.32M513.1 437.7v2.32M513.1 435.7v2.32M513.1 433.7v2.32M513.1 431.6v2.32M513.1 427.6v2.32M513.1 421.5v2.32M513.9 433.7v2.32M513.9 421.5v2.32M514.8 435.7v2.32M514.8 433.7v2.32M514.8 429.6v2.32M514.8 427.6v2.32M515.6 437.7v2.32M515.6 435.7v2.32M515.6 423.5v2.32M516.5 437.7v2.32M516.5 429.6v2.32M516.5 427.6v2.32M516.5 425.6v2.32M517.3 437.7v2.32M517.3 435.7v2.32M517.3 433.7v2.32M517.3 431.6v2.32M517.3 427.6v2.32M518.1 435.7v2.32M518.1 423.5v2.32M519.0 439.7v2.32M519.0 435.7v2.32M519.0 433.7v2.32M519.0 425.6v2.32M519.8 439.7v2.32M519.8 431.6v2.32M519.8 425.6v2.32M520.6 439.7v2.32M520.6 433.7v2.32M520.6 431.6v2.32M520.6 427.6v2.32M521.5 441.8v2.32M521.5 437.7v2.32M521.5 435.7v2.32M521.5 433.7v2.32M521.5 429.6v2.32M521.5 427.6v2.32M522.3 443.8v2.32M522.3 439.7v2.32M522.3 437.7v2.32M522.3 435.7v2.32M522.3 431.6v2.32M523.1 445.8v2.32M523.1 443.8v2.32M523.1 441.8v2.32M523.1 437.7v2.32M523.1 435.7v2.32M523.1 431.6v2.32M524.0 447.8v2.32M524.0 443.8v2.32M524.0 441.8v2.32M524.0 439.7v2.32M524.0 437.7v2.32M524.0 433.7v2.32M524.8 445.8v2.32M524.8 441.8v2.32M524.8 439.7v2.32M524.8 437.7v2.32M524.8 433.7v2.32M525.7 449.9v2.32M525.7 443.8v2.32M525.7 441.8v2.32M526.5 445.8v2.32M526.5 443.8v2.32M526.5 441.8v2.32M527.3 449.9v2.32M527.3 447.8v2.32M527.3 445.8v2.32M527.3 443.8v2.32M527.3 439.7v2.32M528.2 447.8v2.32M528.2 443.8v2.32M528.2 439.7v2.32M529.0 453.9v2.32M529.0 451.9v2.32M529.0 449.9v2.32M529.0 447.8v2.32M529.0 445.8v2.32M529.0 443.8v2.32M529.0 441.8v2.32M529.0 439.7v2.32M529.8 453.9v2.32M529.8 451.9v2.32M529.8 449.9v2.32M529.8 447.8v2.32M529.8 443.8v2.32M529.8 441.8v2.32M529.8 439.7v2.32M530.7 455.9v2.32M530.7 453.9v2.32M530.7 451.9v2.32M530.7 449.9v2.32M530.7 445.8v2.32M530.7 443.8v2.32M530.7 441.8v2.32M530.7 439.7v2.32M531.5 455.9v2.32M531.5 451.9v2.32M531.5 443.8v2.32M532.3 457.9v2.32M532.3 453.9v2.32M532.3 451.9v2.32M532.3 449.9v2.32M532.3 441.8v2.32M533.2 453.9v2.32M533.2 451.9v2.32M533.2 449.9v2.32M533.2 447.8v2.32M533.2 445.8v2.32M534.0 460.0v2.32M534.0 455.9v2.32M534.0 453.9v2.32M534.0 449.9v2.32M534.0 447.8v2.32M534.0 445.8v2.32M534.0 441.8v2.32M534.0 423.5v2.32M534.0 421.5v2.32M534.8 460.0v2.32M534.8 455.9v2.32M534.8 453.9v2.32M534.8 449.9v2.32M534.8 447.8v2.32M534.8 443.8v2.32M535.7 462.0v2.32M535.7 460.0v2.32M535.7 455.9v2.32M535.7 453.9v2.32M535.7 451.9v2.32M535.7 449.9v2.32M535.7 443.8v2.32M536.5 457.9v2.32M536.5 455.9v2.32M537.4 464.0v2.32M537.4 453.9v2.32M537.4 447.8v2.32M537.4 427.6v2.32M538.2 464.0v2.32M538.2 460.0v2.32M538.2 457.9v2.32M538.2 453.9v2.32M538.2 449.9v2.32M538.2 447.8v2.32M538.2 431.6v2.32M538.2 427.6v2.32M539.0 462.0v2.32M539.0 460.0v2.32M539.0 455.9v2.32M539.0 453.9v2.32M539.0 449.9v2.32M539.0 447.8v2.32M539.0 433.7v2.32M539.0 431.6v2.32M539.0 429.6v2.32M539.0 427.6v2.32M539.9 468.1v2.32M539.9 462.0v2.32M539.9 460.0v2.32M539.9 457.9v2.32M539.9 455.9v2.32M539.9 451.9v2.32M539.9 429.6v2.32M539.9 427.6v2.32M540.7 470.1v2.32M540.7 468.1v2.32M540.7 466.0v2.32M540.7 464.0v2.32M540.7 455.9v2.32M540.7 451.9v2.32M540.7 433.7v2.32M540.7 429.6v2.32M540.7 427.6v2.32M541.5 468.1v2.32M541.5 457.9v2.32M541.5 451.9v2.32M541.5 433.7v2.32M541.5 429.6v2.32M542.4 472.1v2.32M542.4 468.1v2.32M542.4 466.0v2.32M542.4 460.0v2.32M542.4 455.9v2.32M542.4 453.9v2.32M542.4 435.7v2.32M542.4 433.7v2.32M543.2 470.1v2.32M543.2 466.0v2.32M543.2 464.0v2.32M543.2 462.0v2.32M543.2 460.0v2.32M543.2 455.9v2.32M543.2 451.9v2.32M543.2 439.7v2.32M543.2 437.7v2.32M543.2 435.7v2.32M543.2 433.7v2.32M544.0 472.1v2.32M544.0 466.0v2.32M544.0 464.0v2.32M544.0 462.0v2.32M544.0 457.9v2.32M544.0 455.9v2.32M544.0 439.7v2.32M544.0 437.7v2.32M544.9 468.1v2.32M544.9 466.0v2.32M544.9 464.0v2.32M544.9 462.0v2.32M544.9 460.0v2.32M544.9 457.9v2.32M544.9 441.8v2.32M544.9 439.7v2.32M544.9 435.7v2.32M545.7 472.1v2.32M545.7 470.1v2.32M545.7 468.1v2.32M545.7 464.0v2.32M545.7 457.9v2.32M545.7 439.7v2.32M546.5 470.1v2.32M546.5 464.0v2.32M546.5 462.0v2.32M546.5 455.9v2.32M546.5 453.9v2.32M546.5 445.8v2.32M546.5 443.8v2.32M546.5 441.8v2.32M546.5 439.7v2.32M546.5 437.7v2.32M547.4 470.1v2.32M547.4 466.0v2.32M547.4 464.0v2.32M547.4 462.0v2.32M547.4 460.0v2.32M547.4 457.9v2.32M547.4 445.8v2.32M547.4 443.8v2.32M547.4 441.8v2.32M548.2 472.1v2.32M548.2 468.1v2.32M548.2 466.0v2.32M548.2 457.9v2.32M548.2 445.8v2.32M548.2 443.8v2.32M548.2 441.8v2.32M548.2 439.7v2.32M549.1 472.1v2.32M549.1 470.1v2.32M549.1 468.1v2.32M549.1 464.0v2.32M549.1 460.0v2.32M549.1 457.9v2.32M549.1 445.8v2.32M549.1 443.8v2.32M549.9 474.1v2.32M549.9 470.1v2.32M549.9 468.1v2.32M549.9 460.0v2.32M549.9 457.9v2.32M549.9 449.9v2.32M549.9 447.8v2.32M549.9 443.8v2.32M550.7 472.1v2.32M550.7 470.1v2.32M550.7 468.1v2.32M550.7 466.0v2.32M550.7 462.0v2.32M550.7 449.9v2.32M550.7 447.8v2.32M551.6 472.1v2.32M551.6 470.1v2.32M551.6 468.1v2.32M551.6 466.0v2.32M551.6 464.0v2.32M551.6 451.9v2.32M551.6 449.9v2.32M551.6 447.8v2.32M552.4 472.1v2.32M552.4 468.1v2.32M552.4 466.0v2.32M552.4 464.0v2.32M552.4 453.9v2.32M552.4 451.9v2.32M552.4 449.9v2.32M552.4 447.8v2.32M552.4 445.8v2.32M553.2 472.1v2.32M553.2 470.1v2.32M553.2 464.0v2.32M553.2 455.9v2.32M553.2 453.9v2.32M553.2 447.8v2.32M554.1 470.1v2.32M554.1 468.1v2.32M554.1 464.0v2.32M554.1 457.9v2.32M554.1 451.9v2.32M554.1 449.9v2.32M554.9 470.1v2.32M554.9 466.0v2.32M554.9 464.0v2.32M554.9 455.9v2.32M554.9 449.9v2.32M555.7 472.1v2.32M555.7 470.1v2.32M555.7 468.1v2.32M555.7 466.0v2.32M555.7 464.0v2.32M555.7 460.0v2.32M555.7 457.9v2.32M555.7 453.9v2.32M556.6 470.1v2.32M556.6 468.1v2.32M556.6 466.0v2.32M556.6 464.0v2.32M556.6 462.0v2.32M556.6 457.9v2.32M556.6 453.9v2.32M557.4 470.1v2.32M557.4 468.1v2.32M557.4 466.0v2.32M557.4 464.0v2.32M557.4 462.0v2.32M557.4 460.0v2.32M557.4 455.9v2.32M558.2 470.1v2.32M558.2 468.1v2.32M558.2 466.0v2.32M558.2 464.0v2.32M558.2 462.0v2.32M558.2 460.0v2.32M558.2 457.9v2.32M558.2 455.9v2.32M558.2 453.9v2.32M558.2 451.9v2.32M559.1 468.1v2.32M559.1 466.0v2.32M559.1 464.0v2.32M559.1 462.0v2.32M559.9 470.1v2.32M559.9 468.1v2.32M559.9 466.0v2.32M559.9 464.0v2.32M559.9 462.0v2.32M559.9 460.0v2.32M559.9 457.9v2.32M560.8 466.0v2.32M560.8 464.0v2.32M560.8 460.0v2.32M560.8 457.9v2.32M560.8 453.9v2.32M560.8 451.9v2.32M560.8 427.6v2.32M560.8 425.6v2.32M561.6 470.1v2.32M561.6 468.1v2.32M561.6 466.0v2.32M561.6 464.0v2.32M561.6 462.0v2.32M561.6 457.9v2.32M561.6 455.9v2.32M561.6 453.9v2.32M561.6 429.6v2.32M562.4 470.1v2.32M562.4 468.1v2.32M562.4 466.0v2.32M562.4 464.0v2.32M562.4 457.9v2.32M562.4 455.9v2.32M562.4 451.9v2.32M562.4 429.6v2.32M563.3 470.1v2.32M563.3 468.1v2.32M563.3 466.0v2.32M563.3 464.0v2.32M563.3 462.0v2.32M563.3 460.0v2.32M563.3 455.9v2.32M563.3 451.9v2.32M563.3 429.6v2.32M564.1 472.1v2.32M564.1 470.1v2.32M564.1 468.1v2.32M564.1 466.0v2.32M564.1 464.0v2.32M564.1 457.9v2.32M564.1 451.9v2.32M564.1 449.9v2.32M564.1 435.7v2.32M564.9 466.0v2.32M564.9 462.0v2.32M564.9 460.0v2.32M564.9 457.9v2.32M564.9 451.9v2.32M564.9 449.9v2.32M564.9 433.7v2.32M564.9 431.6v2.32M565.8 466.0v2.32M565.8 464.0v2.32M565.8 462.0v2.32M565.8 460.0v2.32M565.8 453.9v2.32M565.8 451.9v2.32M565.8 437.7v2.32M565.8 435.7v2.32M565.8 433.7v2.32M566.6 468.1v2.32M566.6 466.0v2.32M566.6 464.0v2.32M566.6 462.0v2.32M566.6 460.0v2.32M566.6 453.9v2.32M566.6 439.7v2.32M566.6 435.7v2.32M567.4 468.1v2.32M567.4 466.0v2.32M567.4 464.0v2.32M567.4 455.9v2.32M567.4 441.8v2.32M567.4 437.7v2.32M568.3 470.1v2.32M568.3 468.1v2.32M568.3 466.0v2.32M568.3 460.0v2.32M568.3 443.8v2.32M568.3 441.8v2.32M569.1 466.0v2.32M569.1 464.0v2.32M569.1 460.0v2.32M569.1 457.9v2.32M569.1 455.9v2.32M569.1 445.8v2.32M569.1 443.8v2.32M569.1 441.8v2.32M569.1 439.7v2.32M570.0 470.1v2.32M570.0 468.1v2.32M570.0 466.0v2.32M570.0 464.0v2.32M570.0 462.0v2.32M570.0 460.0v2.32M570.0 453.9v2.32M570.0 451.9v2.32M570.0 449.9v2.32M570.0 445.8v2.32M570.0 443.8v2.32M570.0 441.8v2.32M570.0 439.7v2.32M570.8 468.1v2.32M570.8 466.0v2.32M570.8 464.0v2.32M570.8 462.0v2.32M570.8 451.9v2.32M570.8 443.8v2.32M570.8 441.8v2.32M571.6 470.1v2.32M571.6 468.1v2.32M571.6 466.0v2.32M571.6 464.0v2.32M571.6 462.0v2.32M571.6 460.0v2.32M571.6 453.9v2.32M571.6 449.9v2.32M571.6 447.8v2.32M571.6 445.8v2.32M571.6 443.8v2.32M572.5 470.1v2.32M572.5 468.1v2.32M572.5 466.0v2.32M572.5 460.0v2.32M572.5 457.9v2.32M572.5 455.9v2.32M572.5 453.9v2.32M572.5 447.8v2.32M572.5 445.8v2.32M573.3 470.1v2.32M573.3 466.0v2.32M573.3 464.0v2.32M573.3 460.0v2.32M573.3 457.9v2.32M573.3 455.9v2.32M573.3 453.9v2.32M573.3 447.8v2.32M573.3 445.8v2.32M574.1 468.1v2.32M574.1 466.0v2.32M574.1 464.0v2.32M574.1 462.0v2.32M574.1 460.0v2.32M574.1 457.9v2.32M574.1 455.9v2.32M574.1 451.9v2.32M574.1 447.8v2.32M575.0 468.1v2.32M575.0 466.0v2.32M575.0 464.0v2.32M575.0 460.0v2.32M575.0 451.9v2.32M575.0 449.9v2.32M575.0 445.8v2.32M575.8 470.1v2.32M575.8 468.1v2.32M575.8 464.0v2.32M575.8 460.0v2.32M575.8 455.9v2.32M575.8 453.9v2.32M575.8 451.9v2.32M575.8 449.9v2.32M575.8 447.8v2.32M576.6 470.1v2.32M576.6 468.1v2.32M576.6 464.0v2.32M576.6 460.0v2.32M576.6 457.9v2.32M576.6 455.9v2.32M576.6 453.9v2.32M576.6 451.9v2.32M576.6 449.9v2.32M577.5 470.1v2.32M577.5 468.1v2.32M577.5 466.0v2.32M577.5 464.0v2.32M577.5 462.0v2.32M577.5 460.0v2.32M577.5 457.9v2.32M577.5 455.9v2.32M577.5 453.9v2.32M578.3 470.1v2.32M578.3 468.1v2.32M578.3 464.0v2.32M578.3 460.0v2.32M578.3 457.9v2.32M578.3 453.9v2.32M578.3 449.9v2.32M579.1 470.1v2.32M579.1 466.0v2.32M579.1 464.0v2.32M579.1 460.0v2.32M579.1 457.9v2.32M579.1 453.9v2.32M579.1 451.9v2.32M579.1 441.8v2.32M580.0 470.1v2.32M580.0 468.1v2.32M580.0 466.0v2.32M580.0 464.0v2.32M580.0 462.0v2.32M580.0 457.9v2.32M580.0 455.9v2.32M580.0 453.9v2.32M580.0 451.9v2.32M580.0 441.8v2.32M580.8 468.1v2.32M580.8 466.0v2.32M580.8 464.0v2.32M580.8 462.0v2.32M580.8 460.0v2.32M580.8 457.9v2.32M580.8 455.9v2.32M580.8 453.9v2.32M580.8 443.8v2.32M580.8 441.8v2.32M581.7 468.1v2.32M581.7 466.0v2.32M581.7 464.0v2.32M581.7 462.0v2.32M581.7 460.0v2.32M581.7 455.9v2.32M581.7 453.9v2.32M581.7 445.8v2.32M581.7 443.8v2.32M581.7 439.7v2.32M582.5 468.1v2.32M582.5 466.0v2.32M582.5 464.0v2.32M582.5 462.0v2.32M582.5 460.0v2.32M582.5 457.9v2.32M582.5 455.9v2.32M582.5 445.8v2.32M582.5 443.8v2.32M582.5 441.8v2.32M582.5 439.7v2.32M583.3 468.1v2.32M583.3 466.0v2.32M583.3 464.0v2.32M583.3 462.0v2.32M583.3 460.0v2.32M583.3 453.9v2.32M583.3 445.8v2.32M583.3 441.8v2.32M583.3 439.7v2.32M583.3 435.7v2.32M584.2 468.1v2.32M584.2 466.0v2.32M584.2 464.0v2.32M584.2 462.0v2.32M584.2 460.0v2.32M584.2 457.9v2.32M584.2 455.9v2.32M584.2 449.9v2.32M584.2 447.8v2.32M584.2 445.8v2.32M584.2 443.8v2.32M584.2 441.8v2.32M584.2 439.7v2.32M584.2 437.7v2.32M584.2 435.7v2.32M585.0 468.1v2.32M585.0 464.0v2.32M585.0 462.0v2.32M585.0 460.0v2.32M585.0 457.9v2.32M585.0 449.9v2.32M585.0 447.8v2.32M585.0 445.8v2.32M585.0 437.7v2.32M585.8 466.0v2.32M585.8 464.0v2.32M585.8 462.0v2.32M585.8 460.0v2.32M585.8 457.9v2.32M585.8 449.9v2.32M585.8 447.8v2.32M585.8 445.8v2.32M585.8 441.8v2.32M585.8 437.7v2.32M586.7 464.0v2.32M586.7 462.0v2.32M586.7 460.0v2.32M586.7 455.9v2.32M586.7 447.8v2.32M586.7 445.8v2.32M586.7 443.8v2.32M586.7 439.7v2.32M587.5 464.0v2.32M587.5 462.0v2.32M587.5 460.0v2.32M587.5 449.9v2.32M587.5 443.8v2.32M587.5 439.7v2.32M587.5 435.7v2.32M588.3 464.0v2.32M588.3 462.0v2.32M588.3 457.9v2.32M588.3 447.8v2.32M588.3 445.8v2.32M588.3 443.8v2.32M588.3 439.7v2.32M588.3 435.7v2.32M589.2 460.0v2.32M589.2 457.9v2.32M589.2 449.9v2.32M589.2 447.8v2.32M589.2 445.8v2.32M589.2 443.8v2.32M589.2 441.8v2.32M589.2 435.7v2.32M590.0 464.0v2.32M590.0 462.0v2.32M590.0 460.0v2.32M590.0 451.9v2.32M590.0 449.9v2.32M590.0 447.8v2.32M590.0 441.8v2.32M590.8 462.0v2.32M590.8 460.0v2.32M590.8 451.9v2.32M590.8 449.9v2.32M590.8 447.8v2.32M590.8 445.8v2.32M590.8 443.8v2.32M590.8 437.7v2.32M591.7 460.0v2.32M591.7 457.9v2.32M591.7 455.9v2.32M591.7 451.9v2.32M591.7 449.9v2.32M591.7 447.8v2.32M591.7 445.8v2.32M591.7 443.8v2.32M591.7 437.7v2.32M592.5 457.9v2.32M592.5 449.9v2.32M592.5 447.8v2.32M592.5 445.8v2.32M592.5 443.8v2.32M592.5 441.8v2.32M592.5 439.7v2.32M592.5 435.7v2.32M593.4 462.0v2.32M593.4 460.0v2.32M593.4 457.9v2.32M593.4 455.9v2.32M593.4 447.8v2.32M593.4 445.8v2.32M593.4 439.7v2.32M594.2 460.0v2.32M594.2 457.9v2.32M594.2 449.9v2.32M594.2 447.8v2.32M594.2 445.8v2.32M594.2 443.8v2.32M594.2 441.8v2.32M595.0 460.0v2.32M595.0 457.9v2.32M595.0 449.9v2.32M595.0 445.8v2.32M595.0 443.8v2.32M595.0 441.8v2.32M595.0 439.7v2.32M595.9 457.9v2.32M595.9 455.9v2.32M595.9 449.9v2.32M595.9 445.8v2.32M595.9 443.8v2.32M595.9 439.7v2.32M596.7 447.8v2.32M596.7 445.8v2.32M596.7 443.8v2.32M596.7 441.8v2.32M596.7 439.7v2.32M596.7 437.7v2.32M597.5 447.8v2.32M597.5 443.8v2.32M597.5 441.8v2.32M597.5 439.7v2.32M597.5 437.7v2.32M597.5 435.7v2.32M598.4 455.9v2.32M598.4 449.9v2.32M598.4 447.8v2.32M598.4 443.8v2.32M598.4 441.8v2.32M598.4 437.7v2.32M599.2 455.9v2.32M599.2 447.8v2.32M599.2 445.8v2.32M599.2 443.8v2.32M599.2 441.8v2.32M599.2 439.7v2.32M599.2 437.7v2.32M600.0 453.9v2.32M600.0 449.9v2.32M600.0 445.8v2.32M600.0 439.7v2.32M600.9 453.9v2.32M600.9 449.9v2.32M600.9 447.8v2.32M600.9 445.8v2.32M600.9 443.8v2.32M600.9 439.7v2.32M601.7 449.9v2.32M601.7 447.8v2.32M601.7 443.8v2.32M601.7 441.8v2.32M601.7 437.7v2.32M602.5 449.9v2.32M602.5 447.8v2.32M602.5 445.8v2.32M602.5 443.8v2.32M602.5 437.7v2.32M603.4 447.8v2.32M603.4 443.8v2.32M603.4 439.7v2.32M604.2 449.9v2.32M604.2 447.8v2.32M604.2 445.8v2.32M605.1 449.9v2.32M605.1 447.8v2.32M605.1 445.8v2.32M605.1 443.8v2.32M605.1 441.8v2.32M605.1 437.7v2.32M605.1 435.7v2.32M605.9 447.8v2.32M605.9 445.8v2.32M605.9 443.8v2.32M605.9 441.8v2.32M605.9 439.7v2.32M606.7 447.8v2.32M606.7 445.8v2.32M606.7 441.8v2.32M606.7 437.7v2.32M607.6 447.8v2.32M607.6 443.8v2.32M607.6 441.8v2.32M607.6 439.7v2.32M608.4 449.9v2.32M608.4 447.8v2.32M608.4 445.8v2.32M608.4 443.8v2.32M608.4 441.8v2.32M608.4 439.7v2.32M609.2 449.9v2.32M609.2 447.8v2.32M609.2 445.8v2.32M609.2 443.8v2.32M609.2 441.8v2.32M609.2 439.7v2.32M610.1 445.8v2.32M610.1 443.8v2.32M610.1 441.8v2.32M610.1 439.7v2.32M610.1 437.7v2.32M610.9 445.8v2.32M610.9 443.8v2.32M610.9 441.8v2.32M610.9 439.7v2.32M610.9 437.7v2.32M611.7 449.9v2.32M611.7 445.8v2.32M611.7 443.8v2.32M611.7 441.8v2.32M611.7 439.7v2.32M611.7 437.7v2.32M611.7 435.7v2.32M612.6 445.8v2.32M612.6 443.8v2.32M612.6 437.7v2.32M613.4 449.9v2.32M613.4 447.8v2.32M613.4 445.8v2.32M613.4 435.7v2.32M614.2 447.8v2.32M614.2 443.8v2.32M614.2 441.8v2.32M614.2 439.7v2.32M614.2 437.7v2.32M615.1 449.9v2.32M615.1 447.8v2.32M615.1 445.8v2.32M615.1 443.8v2.32M615.1 441.8v2.32M615.1 439.7v2.32M615.9 451.9v2.32M615.9 449.9v2.32M615.9 447.8v2.32M615.9 443.8v2.32M615.9 441.8v2.32M615.9 439.7v2.32M616.8 451.9v2.32M616.8 447.8v2.32M616.8 443.8v2.32M616.8 439.7v2.32M616.8 437.7v2.32M617.6 447.8v2.32M617.6 445.8v2.32M617.6 439.7v2.32M618.4 453.9v2.32M618.4 447.8v2.32M618.4 445.8v2.32M618.4 443.8v2.32M618.4 439.7v2.32M619.3 457.9v2.32M619.3 455.9v2.32M619.3 445.8v2.32M619.3 443.8v2.32M619.3 441.8v2.32M620.1 457.9v2.32M620.1 453.9v2.32M620.1 451.9v2.32M620.1 449.9v2.32M620.1 447.8v2.32M620.1 443.8v2.32M620.1 441.8v2.32M620.1 437.7v2.32M620.9 457.9v2.32M620.9 455.9v2.32M620.9 453.9v2.32M620.9 451.9v2.32M620.9 449.9v2.32M620.9 445.8v2.32M620.9 443.8v2.32M620.9 441.8v2.32M620.9 439.7v2.32M620.9 437.7v2.32M621.8 460.0v2.32M621.8 455.9v2.32M621.8 453.9v2.32M621.8 449.9v2.32M621.8 445.8v2.32M621.8 443.8v2.32M622.6 462.0v2.32M622.6 455.9v2.32M622.6 453.9v2.32M622.6 451.9v2.32M622.6 449.9v2.32M622.6 447.8v2.32M622.6 445.8v2.32M622.6 443.8v2.32M623.4 464.0v2.32M623.4 460.0v2.32M623.4 457.9v2.32M623.4 455.9v2.32M623.4 451.9v2.32M623.4 447.8v2.32M623.4 443.8v2.32M623.4 437.7v2.32M624.3 464.0v2.32M624.3 460.0v2.32M624.3 457.9v2.32M624.3 455.9v2.32M624.3 451.9v2.32M624.3 449.9v2.32M624.3 443.8v2.32M624.3 441.8v2.32M625.1 466.0v2.32M625.1 464.0v2.32M625.1 462.0v2.32M625.1 460.0v2.32M625.1 457.9v2.32M625.1 455.9v2.32M625.1 453.9v2.32M625.1 451.9v2.32M625.1 449.9v2.32M625.1 447.8v2.32M625.1 445.8v2.32M626.0 464.0v2.32M626.0 462.0v2.32M626.0 460.0v2.32M626.0 455.9v2.32M626.0 451.9v2.32M626.0 445.8v2.32M626.8 468.1v2.32M626.8 466.0v2.32M626.8 462.0v2.32M626.8 457.9v2.32M626.8 455.9v2.32M626.8 453.9v2.32M626.8 447.8v2.32M627.6 466.0v2.32M627.6 464.0v2.32M627.6 462.0v2.32M627.6 460.0v2.32M627.6 457.9v2.32M627.6 455.9v2.32M627.6 453.9v2.32M627.6 451.9v2.32M627.6 443.8v2.32M628.5 468.1v2.32M628.5 466.0v2.32M628.5 464.0v2.32M628.5 462.0v2.32M628.5 460.0v2.32M628.5 455.9v2.32M628.5 453.9v2.32M628.5 451.9v2.32M628.5 449.9v2.32M629.3 466.0v2.32M629.3 464.0v2.32M629.3 460.0v2.32M629.3 455.9v2.32M629.3 453.9v2.32M629.3 451.9v2.32M630.1 466.0v2.32M630.1 464.0v2.32M630.1 462.0v2.32M630.1 460.0v2.32M630.1 457.9v2.32M630.1 455.9v2.32M630.1 451.9v2.32M630.1 445.8v2.32M631.0 466.0v2.32M631.0 464.0v2.32M631.0 462.0v2.32M631.0 457.9v2.32M631.0 455.9v2.32M631.0 453.9v2.32M631.0 451.9v2.32M631.0 449.9v2.32M631.0 445.8v2.32M631.0 443.8v2.32M631.0 441.8v2.32M631.8 464.0v2.32M631.8 460.0v2.32M631.8 455.9v2.32M631.8 453.9v2.32M631.8 451.9v2.32M631.8 449.9v2.32M631.8 447.8v2.32M632.6 464.0v2.32M632.6 462.0v2.32M632.6 460.0v2.32M632.6 457.9v2.32M632.6 455.9v2.32M632.6 453.9v2.32M633.5 462.0v2.32M633.5 460.0v2.32M633.5 457.9v2.32M633.5 455.9v2.32M633.5 453.9v2.32M633.5 447.8v2.32M634.3 468.1v2.32M634.3 464.0v2.32M634.3 457.9v2.32M634.3 455.9v2.32M634.3 449.9v2.32M634.3 447.8v2.32M635.1 468.1v2.32M635.1 464.0v2.32M635.1 460.0v2.32M635.1 457.9v2.32M635.1 453.9v2.32M635.1 451.9v2.32M635.1 447.8v2.32M636.0 466.0v2.32M636.0 464.0v2.32M636.0 462.0v2.32M636.0 460.0v2.32M636.0 455.9v2.32M636.0 453.9v2.32M636.0 451.9v2.32M636.0 445.8v2.32M636.0 443.8v2.32M636.8 466.0v2.32M636.8 464.0v2.32M636.8 460.0v2.32M636.8 457.9v2.32M636.8 455.9v2.32M636.8 453.9v2.32M636.8 451.9v2.32M637.7 466.0v2.32M637.7 462.0v2.32M637.7 460.0v2.32M637.7 455.9v2.32M637.7 447.8v2.32M637.7 445.8v2.32M637.7 441.8v2.32M638.5 464.0v2.32M638.5 462.0v2.32M638.5 460.0v2.32M638.5 455.9v2.32M638.5 453.9v2.32M638.5 451.9v2.32M638.5 449.9v2.32M638.5 447.8v2.32M638.5 445.8v2.32M638.5 443.8v2.32M639.3 457.9v2.32M639.3 451.9v2.32M639.3 449.9v2.32M639.3 447.8v2.32M639.3 445.8v2.32M640.2 464.0v2.32M640.2 457.9v2.32M640.2 455.9v2.32M640.2 451.9v2.32M640.2 449.9v2.32M640.2 447.8v2.32M640.2 445.8v2.32M641.0 464.0v2.32M641.0 460.0v2.32M641.0 453.9v2.32M641.0 451.9v2.32M641.0 447.8v2.32M641.0 445.8v2.32M641.0 443.8v2.32M641.0 439.7v2.32M641.8 464.0v2.32M641.8 460.0v2.32M641.8 457.9v2.32M641.8 455.9v2.32M641.8 453.9v2.32M641.8 451.9v2.32M641.8 447.8v2.32M641.8 445.8v2.32M641.8 439.7v2.32M642.7 464.0v2.32M642.7 460.0v2.32M642.7 457.9v2.32M642.7 447.8v2.32M642.7 445.8v2.32M642.7 443.8v2.32M642.7 441.8v2.32M643.5 464.0v2.32M643.5 460.0v2.32M643.5 457.9v2.32M643.5 455.9v2.32M643.5 453.9v2.32M643.5 449.9v2.32M643.5 445.8v2.32M643.5 441.8v2.32M644.3 466.0v2.32M644.3 462.0v2.32M644.3 457.9v2.32M644.3 455.9v2.32M644.3 451.9v2.32M644.3 449.9v2.32M644.3 447.8v2.32M644.3 445.8v2.32M644.3 443.8v2.32M645.2 466.0v2.32M645.2 464.0v2.32M645.2 462.0v2.32M645.2 455.9v2.32M645.2 453.9v2.32M645.2 451.9v2.32M645.2 449.9v2.32M645.2 447.8v2.32M645.2 445.8v2.32M645.2 443.8v2.32M645.2 441.8v2.32M646.0 464.0v2.32M646.0 460.0v2.32M646.0 457.9v2.32M646.0 453.9v2.32M646.0 451.9v2.32M646.0 449.9v2.32M646.8 466.0v2.32M646.8 462.0v2.32M646.8 460.0v2.32M646.8 453.9v2.32M646.8 451.9v2.32M646.8 447.8v2.32M646.8 445.8v2.32M646.8 441.8v2.32M647.7 468.1v2.32M647.7 466.0v2.32M647.7 462.0v2.32M647.7 460.0v2.32M647.7 457.9v2.32M647.7 455.9v2.32M647.7 453.9v2.32M647.7 451.9v2.32M647.7 449.9v2.32M647.7 445.8v2.32M648.5 468.1v2.32M648.5 466.0v2.32M648.5 464.0v2.32M648.5 462.0v2.32M648.5 457.9v2.32M648.5 455.9v2.32M648.5 453.9v2.32M648.5 429.6v2.32M648.5 427.6v2.32M648.5 423.5v2.32M649.4 468.1v2.32M649.4 464.0v2.32M649.4 462.0v2.32M649.4 457.9v2.32M649.4 455.9v2.32M649.4 453.9v2.32M649.4 451.9v2.32M649.4 447.8v2.32M649.4 445.8v2.32M649.4 429.6v2.32M649.4 425.6v2.32M650.2 468.1v2.32M650.2 466.0v2.32M650.2 464.0v2.32M650.2 460.0v2.32M650.2 455.9v2.32M650.2 453.9v2.32M650.2 451.9v2.32M650.2 447.8v2.32M650.2 443.8v2.32M650.2 431.6v2.32M650.2 429.6v2.32M651.0 466.0v2.32M651.0 462.0v2.32M651.0 460.0v2.32M651.0 457.9v2.32M651.0 455.9v2.32M651.0 453.9v2.32M651.0 451.9v2.32M651.0 449.9v2.32M651.0 445.8v2.32M651.0 443.8v2.32M651.0 435.7v2.32M651.0 433.7v2.32M651.0 431.6v2.32M651.0 429.6v2.32M651.9 464.0v2.32M651.9 460.0v2.32M651.9 457.9v2.32M651.9 455.9v2.32M651.9 453.9v2.32M651.9 447.8v2.32M651.9 445.8v2.32M651.9 437.7v2.32M651.9 435.7v2.32M651.9 433.7v2.32M651.9 431.6v2.32M651.9 429.6v2.32M651.9 427.6v2.32M652.7 470.1v2.32M652.7 468.1v2.32M652.7 466.0v2.32M652.7 464.0v2.32M652.7 462.0v2.32M652.7 460.0v2.32M652.7 457.9v2.32M652.7 455.9v2.32M652.7 453.9v2.32M652.7 451.9v2.32M652.7 449.9v2.32M652.7 437.7v2.32M652.7 429.6v2.32M652.7 427.6v2.32M653.5 470.1v2.32M653.5 468.1v2.32M653.5 466.0v2.32M653.5 464.0v2.32M653.5 462.0v2.32M653.5 457.9v2.32M653.5 455.9v2.32M653.5 453.9v2.32M653.5 451.9v2.32M653.5 449.9v2.32M653.5 437.7v2.32M653.5 435.7v2.32M653.5 429.6v2.32M654.4 466.0v2.32M654.4 464.0v2.32M654.4 462.0v2.32M654.4 460.0v2.32M654.4 455.9v2.32M654.4 453.9v2.32M654.4 445.8v2.32M654.4 441.8v2.32M654.4 437.7v2.32M654.4 435.7v2.32M654.4 429.6v2.32M655.2 466.0v2.32M655.2 462.0v2.32M655.2 460.0v2.32M655.2 457.9v2.32M655.2 455.9v2.32M655.2 453.9v2.32M655.2 441.8v2.32M655.2 437.7v2.32M655.2 431.6v2.32M656.0 466.0v2.32M656.0 464.0v2.32M656.0 462.0v2.32M656.0 460.0v2.32M656.0 457.9v2.32M656.0 453.9v2.32M656.0 449.9v2.32M656.0 445.8v2.32M656.0 443.8v2.32M656.0 439.7v2.32M656.0 437.7v2.32M656.0 435.7v2.32M656.0 433.7v2.32M656.0 431.6v2.32M656.0 429.6v2.32M656.9 466.0v2.32M656.9 464.0v2.32M656.9 462.0v2.32M656.9 460.0v2.32M656.9 457.9v2.32M656.9 451.9v2.32M656.9 449.9v2.32M656.9 445.8v2.32M656.9 441.8v2.32M656.9 439.7v2.32M656.9 437.7v2.32M656.9 431.6v2.32M657.7 464.0v2.32M657.7 462.0v2.32M657.7 460.0v2.32M657.7 457.9v2.32M657.7 455.9v2.32M657.7 445.8v2.32M657.7 431.6v2.32M658.5 462.0v2.32M658.5 460.0v2.32M658.5 457.9v2.32M658.5 455.9v2.32M658.5 453.9v2.32M658.5 443.8v2.32M658.5 441.8v2.32M658.5 437.7v2.32M658.5 435.7v2.32M658.5 433.7v2.32M659.4 460.0v2.32M659.4 457.9v2.32M659.4 455.9v2.32M659.4 453.9v2.32M659.4 443.8v2.32M659.4 441.8v2.32M659.4 439.7v2.32M659.4 437.7v2.32M659.4 435.7v2.32M660.2 455.9v2.32M660.2 453.9v2.32M660.2 445.8v2.32M660.2 443.8v2.32M660.2 441.8v2.32M660.2 439.7v2.32M661.1 457.9v2.32M661.1 455.9v2.32M661.1 453.9v2.32M661.1 445.8v2.32M661.1 443.8v2.32M661.1 441.8v2.32M661.1 439.7v2.32M661.1 437.7v2.32M661.9 457.9v2.32M661.9 455.9v2.32M661.9 451.9v2.32M661.9 449.9v2.32M661.9 445.8v2.32M662.7 455.9v2.32M662.7 453.9v2.32M662.7 447.8v2.32M662.7 445.8v2.32M662.7 443.8v2.32M662.7 439.7v2.32M663.6 453.9v2.32M663.6 451.9v2.32M663.6 449.9v2.32M663.6 447.8v2.32M663.6 445.8v2.32M664.4 453.9v2.32M664.4 451.9v2.32M664.4 449.9v2.32M664.4 447.8v2.32M664.4 445.8v2.32M664.4 443.8v2.32M665.2 451.9v2.32M665.2 449.9v2.32M665.2 447.8v2.32M665.2 445.8v2.32M665.2 443.8v2.32M665.2 431.6v2.32M666.1 451.9v2.32M666.1 445.8v2.32M666.1 435.7v2.32M666.1 433.7v2.32M666.9 449.9v2.32M666.9 445.8v2.32M666.9 443.8v2.32M666.9 441.8v2.32M666.9 437.7v2.32M666.9 435.7v2.32M667.7 447.8v2.32M667.7 445.8v2.32M667.7 443.8v2.32M667.7 439.7v2.32M667.7 437.7v2.32M668.6 447.8v2.32M668.6 443.8v2.32M668.6 441.8v2.32M669.4 437.7v2.32M670.3 443.8v2.32M670.3 441.8v2.32M670.3 437.7v2.32M671.1 443.8v2.32M671.1 441.8v2.32M671.1 439.7v2.32M671.9 445.8v2.32M671.9 441.8v2.32M671.9 439.7v2.32M672.8 439.7v2.32M673.6 437.7v2.32M673.6 435.7v2.32M674.4 433.7v2.32M675.3 437.7v2.32M675.3 433.7v2.32" stroke="#c6c5bc" stroke-width="1.08" fill="none"/>
<path d="M474.7 455.9v2.32M478.0 435.7v2.32M493.9 423.5v2.32M528.2 451.9v2.32M538.2 429.6v2.32M567.4 439.7v2.32M578.3 466.0v2.32M580.8 439.7v2.32M583.3 443.8v2.32M605.1 439.7v2.32M634.3 462.0v2.32M636.0 449.9v2.32M637.7 453.9v2.32M645.2 457.9v2.32M649.4 441.8v2.32M649.4 427.6v2.32M650.2 427.6v2.32" stroke="#6bd32f" stroke-width="1.08" fill="none"/>
<path d="M474.7 449.9v2.32" stroke="#0a2a8a" stroke-width="1.08" fill="none"/>
<path d="M505.6 425.6v2.32M516.5 435.7v2.32M516.5 431.6v2.32M534.8 423.5v2.32M540.7 437.7v2.32M544.0 433.7v2.32M549.1 449.9v2.32M580.8 470.1v2.32M588.3 460.0v2.32M588.3 449.9v2.32M600.9 441.8v2.32M619.3 437.7v2.32M626.8 460.0v2.32M653.5 460.0v2.32M654.4 451.9v2.32M671.9 435.7v2.32" stroke="#ffb90f" stroke-width="1.08" fill="none"/>
<path d="M512.3 435.7v2.32M523.1 433.7v2.32M533.2 435.7v2.32M533.2 423.5v2.32M540.7 457.9v2.32M568.3 439.7v2.32M579.1 468.1v2.32M596.7 457.9v2.32M615.9 437.7v2.32M651.9 466.0v2.32M669.4 441.8v2.32" stroke="#ff7d0a" stroke-width="1.08" fill="none"/>
<path d="M538.2 425.6v2.32" stroke="#c03030" stroke-width="1.08" fill="none"/>
<line x1="84.30" y1="113.55" x2="698.30" y2="113.55" stroke="#5a5a5a" stroke-width="1.2" />
<line x1="90.60" y1="307.90" x2="692.40" y2="307.90" stroke="#5a5a5a" stroke-width="1.5" />
<line x1="90.60" y1="110.15" x2="90.60" y2="311.70" stroke="#3a3a3a" stroke-width="1.2" />
<line x1="692.40" y1="110.15" x2="692.40" y2="311.70" stroke="#3a3a3a" stroke-width="1.2" />
<line x1="84.40" y1="306.90" x2="90.60" y2="306.90" stroke="#5a5a5a" stroke-width="1.0" />
<line x1="692.40" y1="306.90" x2="698.30" y2="306.90" stroke="#5a5a5a" stroke-width="1.0" />
<line x1="84.40" y1="302.40" x2="90.60" y2="302.40" stroke="#5a5a5a" stroke-width="1.0" />
<line x1="692.40" y1="302.40" x2="698.30" y2="302.40" stroke="#5a5a5a" stroke-width="1.0" />
<line x1="84.40" y1="297.91" x2="90.60" y2="297.91" stroke="#5a5a5a" stroke-width="1.0" />
<line x1="692.40" y1="297.91" x2="698.30" y2="297.91" stroke="#5a5a5a" stroke-width="1.0" />
<line x1="84.40" y1="293.41" x2="90.60" y2="293.41" stroke="#5a5a5a" stroke-width="1.0" />
<line x1="692.40" y1="293.41" x2="698.30" y2="293.41" stroke="#5a5a5a" stroke-width="1.0" />
<line x1="84.40" y1="288.91" x2="90.60" y2="288.91" stroke="#5a5a5a" stroke-width="1.0" />
<line x1="692.40" y1="288.91" x2="698.30" y2="288.91" stroke="#5a5a5a" stroke-width="1.0" />
<line x1="84.40" y1="284.42" x2="90.60" y2="284.42" stroke="#5a5a5a" stroke-width="1.0" />
<line x1="692.40" y1="284.42" x2="698.30" y2="284.42" stroke="#5a5a5a" stroke-width="1.0" />
<line x1="84.40" y1="279.92" x2="90.60" y2="279.92" stroke="#5a5a5a" stroke-width="1.0" />
<line x1="692.40" y1="279.92" x2="698.30" y2="279.92" stroke="#5a5a5a" stroke-width="1.0" />
<line x1="84.40" y1="275.42" x2="90.60" y2="275.42" stroke="#5a5a5a" stroke-width="1.0" />
<line x1="692.40" y1="275.42" x2="698.30" y2="275.42" stroke="#5a5a5a" stroke-width="1.0" />
<line x1="78.90" y1="270.93" x2="90.60" y2="270.93" stroke="#5a5a5a" stroke-width="1.0" />
<line x1="692.40" y1="270.93" x2="704.20" y2="270.93" stroke="#5a5a5a" stroke-width="1.0" />
<line x1="84.40" y1="266.43" x2="90.60" y2="266.43" stroke="#5a5a5a" stroke-width="1.0" />
<line x1="692.40" y1="266.43" x2="698.30" y2="266.43" stroke="#5a5a5a" stroke-width="1.0" />
<line x1="84.40" y1="261.93" x2="90.60" y2="261.93" stroke="#5a5a5a" stroke-width="1.0" />
<line x1="692.40" y1="261.93" x2="698.30" y2="261.93" stroke="#5a5a5a" stroke-width="1.0" />
<line x1="84.40" y1="257.44" x2="90.60" y2="257.44" stroke="#5a5a5a" stroke-width="1.0" />
<line x1="692.40" y1="257.44" x2="698.30" y2="257.44" stroke="#5a5a5a" stroke-width="1.0" />
<line x1="84.40" y1="252.94" x2="90.60" y2="252.94" stroke="#5a5a5a" stroke-width="1.0" />
<line x1="692.40" y1="252.94" x2="698.30" y2="252.94" stroke="#5a5a5a" stroke-width="1.0" />
<line x1="84.40" y1="248.44" x2="90.60" y2="248.44" stroke="#5a5a5a" stroke-width="1.0" />
<line x1="692.40" y1="248.44" x2="698.30" y2="248.44" stroke="#5a5a5a" stroke-width="1.0" />
<line x1="84.40" y1="243.95" x2="90.60" y2="243.95" stroke="#5a5a5a" stroke-width="1.0" />
<line x1="692.40" y1="243.95" x2="698.30" y2="243.95" stroke="#5a5a5a" stroke-width="1.0" />
<line x1="84.40" y1="239.45" x2="90.60" y2="239.45" stroke="#5a5a5a" stroke-width="1.0" />
<line x1="692.40" y1="239.45" x2="698.30" y2="239.45" stroke="#5a5a5a" stroke-width="1.0" />
<line x1="84.40" y1="234.96" x2="90.60" y2="234.96" stroke="#5a5a5a" stroke-width="1.0" />
<line x1="692.40" y1="234.96" x2="698.30" y2="234.96" stroke="#5a5a5a" stroke-width="1.0" />
<line x1="84.40" y1="230.46" x2="90.60" y2="230.46" stroke="#5a5a5a" stroke-width="1.0" />
<line x1="692.40" y1="230.46" x2="698.30" y2="230.46" stroke="#5a5a5a" stroke-width="1.0" />
<line x1="78.90" y1="225.96" x2="90.60" y2="225.96" stroke="#5a5a5a" stroke-width="1.0" />
<line x1="692.40" y1="225.96" x2="704.20" y2="225.96" stroke="#5a5a5a" stroke-width="1.0" />
<line x1="84.40" y1="221.47" x2="90.60" y2="221.47" stroke="#5a5a5a" stroke-width="1.0" />
<line x1="692.40" y1="221.47" x2="698.30" y2="221.47" stroke="#5a5a5a" stroke-width="1.0" />
<line x1="84.40" y1="216.97" x2="90.60" y2="216.97" stroke="#5a5a5a" stroke-width="1.0" />
<line x1="692.40" y1="216.97" x2="698.30" y2="216.97" stroke="#5a5a5a" stroke-width="1.0" />
<line x1="84.40" y1="212.47" x2="90.60" y2="212.47" stroke="#5a5a5a" stroke-width="1.0" />
<line x1="692.40" y1="212.47" x2="698.30" y2="212.47" stroke="#5a5a5a" stroke-width="1.0" />
<line x1="84.40" y1="207.98" x2="90.60" y2="207.98" stroke="#5a5a5a" stroke-width="1.0" />
<line x1="692.40" y1="207.98" x2="698.30" y2="207.98" stroke="#5a5a5a" stroke-width="1.0" />
<line x1="84.40" y1="203.48" x2="90.60" y2="203.48" stroke="#5a5a5a" stroke-width="1.0" />
<line x1="692.40" y1="203.48" x2="698.30" y2="203.48" stroke="#5a5a5a" stroke-width="1.0" />
<line x1="84.40" y1="198.98" x2="90.60" y2="198.98" stroke="#5a5a5a" stroke-width="1.0" />
<line x1="692.40" y1="198.98" x2="698.30" y2="198.98" stroke="#5a5a5a" stroke-width="1.0" />
<line x1="84.40" y1="194.49" x2="90.60" y2="194.49" stroke="#5a5a5a" stroke-width="1.0" />
<line x1="692.40" y1="194.49" x2="698.30" y2="194.49" stroke="#5a5a5a" stroke-width="1.0" />
<line x1="84.40" y1="189.99" x2="90.60" y2="189.99" stroke="#5a5a5a" stroke-width="1.0" />
<line x1="692.40" y1="189.99" x2="698.30" y2="189.99" stroke="#5a5a5a" stroke-width="1.0" />
<line x1="84.40" y1="185.49" x2="90.60" y2="185.49" stroke="#5a5a5a" stroke-width="1.0" />
<line x1="692.40" y1="185.49" x2="698.30" y2="185.49" stroke="#5a5a5a" stroke-width="1.0" />
<line x1="78.90" y1="181.00" x2="90.60" y2="181.00" stroke="#5a5a5a" stroke-width="1.0" />
<line x1="692.40" y1="181.00" x2="704.20" y2="181.00" stroke="#5a5a5a" stroke-width="1.0" />
<line x1="84.40" y1="176.50" x2="90.60" y2="176.50" stroke="#5a5a5a" stroke-width="1.0" />
<line x1="692.40" y1="176.50" x2="698.30" y2="176.50" stroke="#5a5a5a" stroke-width="1.0" />
<line x1="84.40" y1="172.00" x2="90.60" y2="172.00" stroke="#5a5a5a" stroke-width="1.0" />
<line x1="692.40" y1="172.00" x2="698.30" y2="172.00" stroke="#5a5a5a" stroke-width="1.0" />
<line x1="84.40" y1="167.51" x2="90.60" y2="167.51" stroke="#5a5a5a" stroke-width="1.0" />
<line x1="692.40" y1="167.51" x2="698.30" y2="167.51" stroke="#5a5a5a" stroke-width="1.0" />
<line x1="84.40" y1="163.01" x2="90.60" y2="163.01" stroke="#5a5a5a" stroke-width="1.0" />
<line x1="692.40" y1="163.01" x2="698.30" y2="163.01" stroke="#5a5a5a" stroke-width="1.0" />
<line x1="84.40" y1="158.51" x2="90.60" y2="158.51" stroke="#5a5a5a" stroke-width="1.0" />
<line x1="692.40" y1="158.51" x2="698.30" y2="158.51" stroke="#5a5a5a" stroke-width="1.0" />
<line x1="84.40" y1="154.02" x2="90.60" y2="154.02" stroke="#5a5a5a" stroke-width="1.0" />
<line x1="692.40" y1="154.02" x2="698.30" y2="154.02" stroke="#5a5a5a" stroke-width="1.0" />
<line x1="84.40" y1="149.52" x2="90.60" y2="149.52" stroke="#5a5a5a" stroke-width="1.0" />
<line x1="692.40" y1="149.52" x2="698.30" y2="149.52" stroke="#5a5a5a" stroke-width="1.0" />
<line x1="84.40" y1="145.03" x2="90.60" y2="145.03" stroke="#5a5a5a" stroke-width="1.0" />
<line x1="692.40" y1="145.03" x2="698.30" y2="145.03" stroke="#5a5a5a" stroke-width="1.0" />
<line x1="84.40" y1="140.53" x2="90.60" y2="140.53" stroke="#5a5a5a" stroke-width="1.0" />
<line x1="692.40" y1="140.53" x2="698.30" y2="140.53" stroke="#5a5a5a" stroke-width="1.0" />
<line x1="78.90" y1="136.03" x2="90.60" y2="136.03" stroke="#5a5a5a" stroke-width="1.0" />
<line x1="692.40" y1="136.03" x2="704.20" y2="136.03" stroke="#5a5a5a" stroke-width="1.0" />
<line x1="84.40" y1="131.54" x2="90.60" y2="131.54" stroke="#5a5a5a" stroke-width="1.0" />
<line x1="692.40" y1="131.54" x2="698.30" y2="131.54" stroke="#5a5a5a" stroke-width="1.0" />
<line x1="84.40" y1="127.04" x2="90.60" y2="127.04" stroke="#5a5a5a" stroke-width="1.0" />
<line x1="692.40" y1="127.04" x2="698.30" y2="127.04" stroke="#5a5a5a" stroke-width="1.0" />
<line x1="84.40" y1="122.54" x2="90.60" y2="122.54" stroke="#5a5a5a" stroke-width="1.0" />
<line x1="692.40" y1="122.54" x2="698.30" y2="122.54" stroke="#5a5a5a" stroke-width="1.0" />
<line x1="84.40" y1="118.05" x2="90.60" y2="118.05" stroke="#5a5a5a" stroke-width="1.0" />
<line x1="692.40" y1="118.05" x2="698.30" y2="118.05" stroke="#5a5a5a" stroke-width="1.0" />
<line x1="115.67" y1="113.55" x2="115.67" y2="111.95" stroke="#3a3a3a" stroke-width="1.0" />
<line x1="115.67" y1="307.90" x2="115.67" y2="309.80" stroke="#3a3a3a" stroke-width="1.0" />
<line x1="140.75" y1="113.55" x2="140.75" y2="111.95" stroke="#3a3a3a" stroke-width="1.0" />
<line x1="140.75" y1="307.90" x2="140.75" y2="309.80" stroke="#3a3a3a" stroke-width="1.0" />
<line x1="165.82" y1="113.55" x2="165.82" y2="111.95" stroke="#3a3a3a" stroke-width="1.0" />
<line x1="165.82" y1="307.90" x2="165.82" y2="309.80" stroke="#3a3a3a" stroke-width="1.0" />
<line x1="190.90" y1="113.55" x2="190.90" y2="110.15" stroke="#3a3a3a" stroke-width="1.0" />
<line x1="190.90" y1="307.90" x2="190.90" y2="311.60" stroke="#3a3a3a" stroke-width="1.0" />
<line x1="215.97" y1="113.55" x2="215.97" y2="111.95" stroke="#3a3a3a" stroke-width="1.0" />
<line x1="215.97" y1="307.90" x2="215.97" y2="309.80" stroke="#3a3a3a" stroke-width="1.0" />
<line x1="241.05" y1="113.55" x2="241.05" y2="111.95" stroke="#3a3a3a" stroke-width="1.0" />
<line x1="241.05" y1="307.90" x2="241.05" y2="309.80" stroke="#3a3a3a" stroke-width="1.0" />
<line x1="266.12" y1="113.55" x2="266.12" y2="111.95" stroke="#3a3a3a" stroke-width="1.0" />
<line x1="266.12" y1="307.90" x2="266.12" y2="309.80" stroke="#3a3a3a" stroke-width="1.0" />
<line x1="291.20" y1="113.55" x2="291.20" y2="110.15" stroke="#3a3a3a" stroke-width="1.0" />
<line x1="291.20" y1="307.90" x2="291.20" y2="311.60" stroke="#3a3a3a" stroke-width="1.0" />
<line x1="316.27" y1="113.55" x2="316.27" y2="111.95" stroke="#3a3a3a" stroke-width="1.0" />
<line x1="316.27" y1="307.90" x2="316.27" y2="309.80" stroke="#3a3a3a" stroke-width="1.0" />
<line x1="341.35" y1="113.55" x2="341.35" y2="111.95" stroke="#3a3a3a" stroke-width="1.0" />
<line x1="341.35" y1="307.90" x2="341.35" y2="309.80" stroke="#3a3a3a" stroke-width="1.0" />
<line x1="366.42" y1="113.55" x2="366.42" y2="111.95" stroke="#3a3a3a" stroke-width="1.0" />
<line x1="366.42" y1="307.90" x2="366.42" y2="309.80" stroke="#3a3a3a" stroke-width="1.0" />
<line x1="391.50" y1="113.55" x2="391.50" y2="110.15" stroke="#3a3a3a" stroke-width="1.0" />
<line x1="391.50" y1="307.90" x2="391.50" y2="311.60" stroke="#3a3a3a" stroke-width="1.0" />
<line x1="416.57" y1="113.55" x2="416.57" y2="111.95" stroke="#3a3a3a" stroke-width="1.0" />
<line x1="416.57" y1="307.90" x2="416.57" y2="309.80" stroke="#3a3a3a" stroke-width="1.0" />
<line x1="441.65" y1="113.55" x2="441.65" y2="111.95" stroke="#3a3a3a" stroke-width="1.0" />
<line x1="441.65" y1="307.90" x2="441.65" y2="309.80" stroke="#3a3a3a" stroke-width="1.0" />
<line x1="466.73" y1="113.55" x2="466.73" y2="111.95" stroke="#3a3a3a" stroke-width="1.0" />
<line x1="466.73" y1="307.90" x2="466.73" y2="309.80" stroke="#3a3a3a" stroke-width="1.0" />
<line x1="491.80" y1="113.55" x2="491.80" y2="110.15" stroke="#3a3a3a" stroke-width="1.0" />
<line x1="491.80" y1="307.90" x2="491.80" y2="311.60" stroke="#3a3a3a" stroke-width="1.0" />
<line x1="516.88" y1="113.55" x2="516.88" y2="111.95" stroke="#3a3a3a" stroke-width="1.0" />
<line x1="516.88" y1="307.90" x2="516.88" y2="309.80" stroke="#3a3a3a" stroke-width="1.0" />
<line x1="541.95" y1="113.55" x2="541.95" y2="111.95" stroke="#3a3a3a" stroke-width="1.0" />
<line x1="541.95" y1="307.90" x2="541.95" y2="309.80" stroke="#3a3a3a" stroke-width="1.0" />
<line x1="567.02" y1="113.55" x2="567.02" y2="111.95" stroke="#3a3a3a" stroke-width="1.0" />
<line x1="567.02" y1="307.90" x2="567.02" y2="309.80" stroke="#3a3a3a" stroke-width="1.0" />
<line x1="592.10" y1="113.55" x2="592.10" y2="110.15" stroke="#3a3a3a" stroke-width="1.0" />
<line x1="592.10" y1="307.90" x2="592.10" y2="311.60" stroke="#3a3a3a" stroke-width="1.0" />
<line x1="617.17" y1="113.55" x2="617.17" y2="111.95" stroke="#3a3a3a" stroke-width="1.0" />
<line x1="617.17" y1="307.90" x2="617.17" y2="309.80" stroke="#3a3a3a" stroke-width="1.0" />
<line x1="642.25" y1="113.55" x2="642.25" y2="111.95" stroke="#3a3a3a" stroke-width="1.0" />
<line x1="642.25" y1="307.90" x2="642.25" y2="309.80" stroke="#3a3a3a" stroke-width="1.0" />
<line x1="667.33" y1="113.55" x2="667.33" y2="111.95" stroke="#3a3a3a" stroke-width="1.0" />
<line x1="667.33" y1="307.90" x2="667.33" y2="309.80" stroke="#3a3a3a" stroke-width="1.0" />
<text x="73.90" y="276.43" font-size="13.4" text-anchor="end" textLength="30.6" lengthAdjust="spacingAndGlyphs" fill="#111" >1000</text>
<text x="73.90" y="231.46" font-size="13.4" text-anchor="end" textLength="30.6" lengthAdjust="spacingAndGlyphs" fill="#111" >2000</text>
<text x="73.90" y="186.50" font-size="13.4" text-anchor="end" textLength="30.6" lengthAdjust="spacingAndGlyphs" fill="#111" >3000</text>
<text x="73.90" y="141.53" font-size="13.4" text-anchor="end" textLength="30.6" lengthAdjust="spacingAndGlyphs" fill="#111" >4000</text>
<line x1="84.30" y1="320.40" x2="698.30" y2="320.40" stroke="#5a5a5a" stroke-width="1.2" />
<line x1="90.60" y1="514.40" x2="692.40" y2="514.40" stroke="#5a5a5a" stroke-width="1.1" />
<line x1="90.60" y1="317.00" x2="90.60" y2="518.20" stroke="#3a3a3a" stroke-width="1.2" />
<line x1="692.40" y1="317.00" x2="692.40" y2="518.20" stroke="#3a3a3a" stroke-width="1.2" />
<line x1="84.40" y1="513.75" x2="90.60" y2="513.75" stroke="#5a5a5a" stroke-width="1.0" />
<line x1="692.40" y1="513.75" x2="698.30" y2="513.75" stroke="#5a5a5a" stroke-width="1.0" />
<line x1="84.40" y1="509.25" x2="90.60" y2="509.25" stroke="#5a5a5a" stroke-width="1.0" />
<line x1="692.40" y1="509.25" x2="698.30" y2="509.25" stroke="#5a5a5a" stroke-width="1.0" />
<line x1="84.40" y1="504.76" x2="90.60" y2="504.76" stroke="#5a5a5a" stroke-width="1.0" />
<line x1="692.40" y1="504.76" x2="698.30" y2="504.76" stroke="#5a5a5a" stroke-width="1.0" />
<line x1="84.40" y1="500.26" x2="90.60" y2="500.26" stroke="#5a5a5a" stroke-width="1.0" />
<line x1="692.40" y1="500.26" x2="698.30" y2="500.26" stroke="#5a5a5a" stroke-width="1.0" />
<line x1="84.40" y1="495.76" x2="90.60" y2="495.76" stroke="#5a5a5a" stroke-width="1.0" />
<line x1="692.40" y1="495.76" x2="698.30" y2="495.76" stroke="#5a5a5a" stroke-width="1.0" />
<line x1="84.40" y1="491.27" x2="90.60" y2="491.27" stroke="#5a5a5a" stroke-width="1.0" />
<line x1="692.40" y1="491.27" x2="698.30" y2="491.27" stroke="#5a5a5a" stroke-width="1.0" />
<line x1="84.40" y1="486.77" x2="90.60" y2="486.77" stroke="#5a5a5a" stroke-width="1.0" />
<line x1="692.40" y1="486.77" x2="698.30" y2="486.77" stroke="#5a5a5a" stroke-width="1.0" />
<line x1="84.40" y1="482.27" x2="90.60" y2="482.27" stroke="#5a5a5a" stroke-width="1.0" />
<line x1="692.40" y1="482.27" x2="698.30" y2="482.27" stroke="#5a5a5a" stroke-width="1.0" />
<line x1="78.90" y1="477.78" x2="90.60" y2="477.78" stroke="#5a5a5a" stroke-width="1.0" />
<line x1="692.40" y1="477.78" x2="704.20" y2="477.78" stroke="#5a5a5a" stroke-width="1.0" />
<line x1="84.40" y1="473.28" x2="90.60" y2="473.28" stroke="#5a5a5a" stroke-width="1.0" />
<line x1="692.40" y1="473.28" x2="698.30" y2="473.28" stroke="#5a5a5a" stroke-width="1.0" />
<line x1="84.40" y1="468.78" x2="90.60" y2="468.78" stroke="#5a5a5a" stroke-width="1.0" />
<line x1="692.40" y1="468.78" x2="698.30" y2="468.78" stroke="#5a5a5a" stroke-width="1.0" />
<line x1="84.40" y1="464.29" x2="90.60" y2="464.29" stroke="#5a5a5a" stroke-width="1.0" />
<line x1="692.40" y1="464.29" x2="698.30" y2="464.29" stroke="#5a5a5a" stroke-width="1.0" />
<line x1="84.40" y1="459.79" x2="90.60" y2="459.79" stroke="#5a5a5a" stroke-width="1.0" />
<line x1="692.40" y1="459.79" x2="698.30" y2="459.79" stroke="#5a5a5a" stroke-width="1.0" />
<line x1="84.40" y1="455.29" x2="90.60" y2="455.29" stroke="#5a5a5a" stroke-width="1.0" />
<line x1="692.40" y1="455.29" x2="698.30" y2="455.29" stroke="#5a5a5a" stroke-width="1.0" />
<line x1="84.40" y1="450.80" x2="90.60" y2="450.80" stroke="#5a5a5a" stroke-width="1.0" />
<line x1="692.40" y1="450.80" x2="698.30" y2="450.80" stroke="#5a5a5a" stroke-width="1.0" />
<line x1="84.40" y1="446.30" x2="90.60" y2="446.30" stroke="#5a5a5a" stroke-width="1.0" />
<line x1="692.40" y1="446.30" x2="698.30" y2="446.30" stroke="#5a5a5a" stroke-width="1.0" />
<line x1="84.40" y1="441.81" x2="90.60" y2="441.81" stroke="#5a5a5a" stroke-width="1.0" />
<line x1="692.40" y1="441.81" x2="698.30" y2="441.81" stroke="#5a5a5a" stroke-width="1.0" />
<line x1="84.40" y1="437.31" x2="90.60" y2="437.31" stroke="#5a5a5a" stroke-width="1.0" />
<line x1="692.40" y1="437.31" x2="698.30" y2="437.31" stroke="#5a5a5a" stroke-width="1.0" />
<line x1="78.90" y1="432.81" x2="90.60" y2="432.81" stroke="#5a5a5a" stroke-width="1.0" />
<line x1="692.40" y1="432.81" x2="704.20" y2="432.81" stroke="#5a5a5a" stroke-width="1.0" />
<line x1="84.40" y1="428.32" x2="90.60" y2="428.32" stroke="#5a5a5a" stroke-width="1.0" />
<line x1="692.40" y1="428.32" x2="698.30" y2="428.32" stroke="#5a5a5a" stroke-width="1.0" />
<line x1="84.40" y1="423.82" x2="90.60" y2="423.82" stroke="#5a5a5a" stroke-width="1.0" />
<line x1="692.40" y1="423.82" x2="698.30" y2="423.82" stroke="#5a5a5a" stroke-width="1.0" />
<line x1="84.40" y1="419.32" x2="90.60" y2="419.32" stroke="#5a5a5a" stroke-width="1.0" />
<line x1="692.40" y1="419.32" x2="698.30" y2="419.32" stroke="#5a5a5a" stroke-width="1.0" />
<line x1="84.40" y1="414.83" x2="90.60" y2="414.83" stroke="#5a5a5a" stroke-width="1.0" />
<line x1="692.40" y1="414.83" x2="698.30" y2="414.83" stroke="#5a5a5a" stroke-width="1.0" />
<line x1="84.40" y1="410.33" x2="90.60" y2="410.33" stroke="#5a5a5a" stroke-width="1.0" />
<line x1="692.40" y1="410.33" x2="698.30" y2="410.33" stroke="#5a5a5a" stroke-width="1.0" />
<line x1="84.40" y1="405.83" x2="90.60" y2="405.83" stroke="#5a5a5a" stroke-width="1.0" />
<line x1="692.40" y1="405.83" x2="698.30" y2="405.83" stroke="#5a5a5a" stroke-width="1.0" />
<line x1="84.40" y1="401.34" x2="90.60" y2="401.34" stroke="#5a5a5a" stroke-width="1.0" />
<line x1="692.40" y1="401.34" x2="698.30" y2="401.34" stroke="#5a5a5a" stroke-width="1.0" />
<line x1="84.40" y1="396.84" x2="90.60" y2="396.84" stroke="#5a5a5a" stroke-width="1.0" />
<line x1="692.40" y1="396.84" x2="698.30" y2="396.84" stroke="#5a5a5a" stroke-width="1.0" />
<line x1="84.40" y1="392.34" x2="90.60" y2="392.34" stroke="#5a5a5a" stroke-width="1.0" />
<line x1="692.40" y1="392.34" x2="698.30" y2="392.34" stroke="#5a5a5a" stroke-width="1.0" />
<line x1="78.90" y1="387.85" x2="90.60" y2="387.85" stroke="#5a5a5a" stroke-width="1.0" />
<line x1="692.40" y1="387.85" x2="704.20" y2="387.85" stroke="#5a5a5a" stroke-width="1.0" />
<line x1="84.40" y1="383.35" x2="90.60" y2="383.35" stroke="#5a5a5a" stroke-width="1.0" />
<line x1="692.40" y1="383.35" x2="698.30" y2="383.35" stroke="#5a5a5a" stroke-width="1.0" />
<line x1="84.40" y1="378.85" x2="90.60" y2="378.85" stroke="#5a5a5a" stroke-width="1.0" />
<line x1="692.40" y1="378.85" x2="698.30" y2="378.85" stroke="#5a5a5a" stroke-width="1.0" />
<line x1="84.40" y1="374.36" x2="90.60" y2="374.36" stroke="#5a5a5a" stroke-width="1.0" />
<line x1="692.40" y1="374.36" x2="698.30" y2="374.36" stroke="#5a5a5a" stroke-width="1.0" />
<line x1="84.40" y1="369.86" x2="90.60" y2="369.86" stroke="#5a5a5a" stroke-width="1.0" />
<line x1="692.40" y1="369.86" x2="698.30" y2="369.86" stroke="#5a5a5a" stroke-width="1.0" />
<line x1="84.40" y1="365.36" x2="90.60" y2="365.36" stroke="#5a5a5a" stroke-width="1.0" />
<line x1="692.40" y1="365.36" x2="698.30" y2="365.36" stroke="#5a5a5a" stroke-width="1.0" />
<line x1="84.40" y1="360.87" x2="90.60" y2="360.87" stroke="#5a5a5a" stroke-width="1.0" />
<line x1="692.40" y1="360.87" x2="698.30" y2="360.87" stroke="#5a5a5a" stroke-width="1.0" />
<line x1="84.40" y1="356.37" x2="90.60" y2="356.37" stroke="#5a5a5a" stroke-width="1.0" />
<line x1="692.40" y1="356.37" x2="698.30" y2="356.37" stroke="#5a5a5a" stroke-width="1.0" />
<line x1="84.40" y1="351.88" x2="90.60" y2="351.88" stroke="#5a5a5a" stroke-width="1.0" />
<line x1="692.40" y1="351.88" x2="698.30" y2="351.88" stroke="#5a5a5a" stroke-width="1.0" />
<line x1="84.40" y1="347.38" x2="90.60" y2="347.38" stroke="#5a5a5a" stroke-width="1.0" />
<line x1="692.40" y1="347.38" x2="698.30" y2="347.38" stroke="#5a5a5a" stroke-width="1.0" />
<line x1="78.90" y1="342.88" x2="90.60" y2="342.88" stroke="#5a5a5a" stroke-width="1.0" />
<line x1="692.40" y1="342.88" x2="704.20" y2="342.88" stroke="#5a5a5a" stroke-width="1.0" />
<line x1="84.40" y1="338.39" x2="90.60" y2="338.39" stroke="#5a5a5a" stroke-width="1.0" />
<line x1="692.40" y1="338.39" x2="698.30" y2="338.39" stroke="#5a5a5a" stroke-width="1.0" />
<line x1="84.40" y1="333.89" x2="90.60" y2="333.89" stroke="#5a5a5a" stroke-width="1.0" />
<line x1="692.40" y1="333.89" x2="698.30" y2="333.89" stroke="#5a5a5a" stroke-width="1.0" />
<line x1="84.40" y1="329.39" x2="90.60" y2="329.39" stroke="#5a5a5a" stroke-width="1.0" />
<line x1="692.40" y1="329.39" x2="698.30" y2="329.39" stroke="#5a5a5a" stroke-width="1.0" />
<line x1="84.40" y1="324.90" x2="90.60" y2="324.90" stroke="#5a5a5a" stroke-width="1.0" />
<line x1="692.40" y1="324.90" x2="698.30" y2="324.90" stroke="#5a5a5a" stroke-width="1.0" />
<line x1="115.67" y1="320.40" x2="115.67" y2="318.80" stroke="#3a3a3a" stroke-width="1.0" />
<line x1="115.67" y1="514.40" x2="115.67" y2="516.30" stroke="#3a3a3a" stroke-width="1.0" />
<line x1="140.75" y1="320.40" x2="140.75" y2="318.80" stroke="#3a3a3a" stroke-width="1.0" />
<line x1="140.75" y1="514.40" x2="140.75" y2="516.30" stroke="#3a3a3a" stroke-width="1.0" />
<line x1="165.82" y1="320.40" x2="165.82" y2="318.80" stroke="#3a3a3a" stroke-width="1.0" />
<line x1="165.82" y1="514.40" x2="165.82" y2="516.30" stroke="#3a3a3a" stroke-width="1.0" />
<line x1="190.90" y1="320.40" x2="190.90" y2="317.00" stroke="#3a3a3a" stroke-width="1.0" />
<line x1="190.90" y1="514.40" x2="190.90" y2="518.10" stroke="#3a3a3a" stroke-width="1.0" />
<line x1="215.97" y1="320.40" x2="215.97" y2="318.80" stroke="#3a3a3a" stroke-width="1.0" />
<line x1="215.97" y1="514.40" x2="215.97" y2="516.30" stroke="#3a3a3a" stroke-width="1.0" />
<line x1="241.05" y1="320.40" x2="241.05" y2="318.80" stroke="#3a3a3a" stroke-width="1.0" />
<line x1="241.05" y1="514.40" x2="241.05" y2="516.30" stroke="#3a3a3a" stroke-width="1.0" />
<line x1="266.12" y1="320.40" x2="266.12" y2="318.80" stroke="#3a3a3a" stroke-width="1.0" />
<line x1="266.12" y1="514.40" x2="266.12" y2="516.30" stroke="#3a3a3a" stroke-width="1.0" />
<line x1="291.20" y1="320.40" x2="291.20" y2="317.00" stroke="#3a3a3a" stroke-width="1.0" />
<line x1="291.20" y1="514.40" x2="291.20" y2="518.10" stroke="#3a3a3a" stroke-width="1.0" />
<line x1="316.27" y1="320.40" x2="316.27" y2="318.80" stroke="#3a3a3a" stroke-width="1.0" />
<line x1="316.27" y1="514.40" x2="316.27" y2="516.30" stroke="#3a3a3a" stroke-width="1.0" />
<line x1="341.35" y1="320.40" x2="341.35" y2="318.80" stroke="#3a3a3a" stroke-width="1.0" />
<line x1="341.35" y1="514.40" x2="341.35" y2="516.30" stroke="#3a3a3a" stroke-width="1.0" />
<line x1="366.42" y1="320.40" x2="366.42" y2="318.80" stroke="#3a3a3a" stroke-width="1.0" />
<line x1="366.42" y1="514.40" x2="366.42" y2="516.30" stroke="#3a3a3a" stroke-width="1.0" />
<line x1="391.50" y1="320.40" x2="391.50" y2="317.00" stroke="#3a3a3a" stroke-width="1.0" />
<line x1="391.50" y1="514.40" x2="391.50" y2="518.10" stroke="#3a3a3a" stroke-width="1.0" />
<line x1="416.57" y1="320.40" x2="416.57" y2="318.80" stroke="#3a3a3a" stroke-width="1.0" />
<line x1="416.57" y1="514.40" x2="416.57" y2="516.30" stroke="#3a3a3a" stroke-width="1.0" />
<line x1="441.65" y1="320.40" x2="441.65" y2="318.80" stroke="#3a3a3a" stroke-width="1.0" />
<line x1="441.65" y1="514.40" x2="441.65" y2="516.30" stroke="#3a3a3a" stroke-width="1.0" />
<line x1="466.73" y1="320.40" x2="466.73" y2="318.80" stroke="#3a3a3a" stroke-width="1.0" />
<line x1="466.73" y1="514.40" x2="466.73" y2="516.30" stroke="#3a3a3a" stroke-width="1.0" />
<line x1="491.80" y1="320.40" x2="491.80" y2="317.00" stroke="#3a3a3a" stroke-width="1.0" />
<line x1="491.80" y1="514.40" x2="491.80" y2="518.10" stroke="#3a3a3a" stroke-width="1.0" />
<line x1="516.88" y1="320.40" x2="516.88" y2="318.80" stroke="#3a3a3a" stroke-width="1.0" />
<line x1="516.88" y1="514.40" x2="516.88" y2="516.30" stroke="#3a3a3a" stroke-width="1.0" />
<line x1="541.95" y1="320.40" x2="541.95" y2="318.80" stroke="#3a3a3a" stroke-width="1.0" />
<line x1="541.95" y1="514.40" x2="541.95" y2="516.30" stroke="#3a3a3a" stroke-width="1.0" />
<line x1="567.02" y1="320.40" x2="567.02" y2="318.80" stroke="#3a3a3a" stroke-width="1.0" />
<line x1="567.02" y1="514.40" x2="567.02" y2="516.30" stroke="#3a3a3a" stroke-width="1.0" />
<line x1="592.10" y1="320.40" x2="592.10" y2="317.00" stroke="#3a3a3a" stroke-width="1.0" />
<line x1="592.10" y1="514.40" x2="592.10" y2="518.10" stroke="#3a3a3a" stroke-width="1.0" />
<line x1="617.17" y1="320.40" x2="617.17" y2="318.80" stroke="#3a3a3a" stroke-width="1.0" />
<line x1="617.17" y1="514.40" x2="617.17" y2="516.30" stroke="#3a3a3a" stroke-width="1.0" />
<line x1="642.25" y1="320.40" x2="642.25" y2="318.80" stroke="#3a3a3a" stroke-width="1.0" />
<line x1="642.25" y1="514.40" x2="642.25" y2="516.30" stroke="#3a3a3a" stroke-width="1.0" />
<line x1="667.33" y1="320.40" x2="667.33" y2="318.80" stroke="#3a3a3a" stroke-width="1.0" />
<line x1="667.33" y1="514.40" x2="667.33" y2="516.30" stroke="#3a3a3a" stroke-width="1.0" />
<text x="73.90" y="483.28" font-size="13.4" text-anchor="end" textLength="30.6" lengthAdjust="spacingAndGlyphs" fill="#111" >1000</text>
<text x="73.90" y="438.31" font-size="13.4" text-anchor="end" textLength="30.6" lengthAdjust="spacingAndGlyphs" fill="#111" >2000</text>
<text x="73.90" y="393.35" font-size="13.4" text-anchor="end" textLength="30.6" lengthAdjust="spacingAndGlyphs" fill="#111" >3000</text>
<text x="73.90" y="348.38" font-size="13.4" text-anchor="end" textLength="30.6" lengthAdjust="spacingAndGlyphs" fill="#111" >4000</text>
<line x1="542.40" y1="109.75" x2="542.40" y2="307.90" stroke="#dadad6" stroke-width="1.0" stroke-dasharray="6.6 6.2" clip-path="url(#cp)"/>
<line x1="542.40" y1="316.60" x2="542.40" y2="514.40" stroke="#dadad6" stroke-width="1.0" stroke-dasharray="6.6 6.2" clip-path="url(#cp)"/>
<text transform="translate(32.3,211.2) rotate(-90)" font-size="13.2" text-anchor="middle" textLength="109.4" lengthAdjust="spacingAndGlyphs" fill="#111">Slant Range [km]</text>
<text transform="translate(32.3,417.9) rotate(-90)" font-size="13.2" text-anchor="middle" textLength="109.4" lengthAdjust="spacingAndGlyphs" fill="#111">Slant Range [km]</text>
<text x="90.60" y="536.80" font-size="12.8" text-anchor="middle" textLength="35.2" lengthAdjust="spacingAndGlyphs" fill="#111" >00:00</text>
<text x="190.90" y="536.80" font-size="12.8" text-anchor="middle" textLength="35.2" lengthAdjust="spacingAndGlyphs" fill="#111" >04:00</text>
<text x="291.20" y="536.80" font-size="12.8" text-anchor="middle" textLength="35.2" lengthAdjust="spacingAndGlyphs" fill="#111" >08:00</text>
<text x="391.50" y="536.80" font-size="12.8" text-anchor="middle" textLength="35.2" lengthAdjust="spacingAndGlyphs" fill="#111" >12:00</text>
<text x="491.80" y="536.80" font-size="12.8" text-anchor="middle" textLength="35.2" lengthAdjust="spacingAndGlyphs" fill="#111" >16:00</text>
<text x="592.10" y="536.80" font-size="12.8" text-anchor="middle" textLength="35.2" lengthAdjust="spacingAndGlyphs" fill="#111" >20:00</text>
<text x="692.40" y="536.80" font-size="12.8" text-anchor="middle" textLength="35.2" lengthAdjust="spacingAndGlyphs" fill="#111" >00:00</text>
<text x="391.30" y="551.20" font-size="12.4" text-anchor="middle" textLength="50.0" lengthAdjust="spacingAndGlyphs" fill="#111" >Time UT</text>
<rect x="721.90" y="123.20" width="13.70" height="22.10" fill="#ff0000" />
<rect x="721.90" y="145.30" width="13.70" height="21.90" fill="#ff4000" />
<rect x="721.90" y="167.20" width="13.70" height="21.60" fill="#ff7d0a" />
<rect x="721.90" y="188.80" width="13.70" height="21.10" fill="#ffb90f" />
<rect x="721.90" y="209.90" width="13.70" height="22.30" fill="#6bd32f" />
<rect x="721.90" y="232.20" width="13.70" height="21.80" fill="#4a9470" />
<rect x="721.90" y="254.00" width="13.70" height="22.10" fill="#2649b6" />
<rect x="721.90" y="276.10" width="13.70" height="21.90" fill="#0000ff" />
<line x1="721.90" y1="145.30" x2="735.60" y2="145.30" stroke="#30302a" stroke-width="0.8" opacity="0.75"/>
<line x1="721.90" y1="167.20" x2="735.60" y2="167.20" stroke="#30302a" stroke-width="0.8" opacity="0.75"/>
<line x1="721.90" y1="188.80" x2="735.60" y2="188.80" stroke="#30302a" stroke-width="0.8" opacity="0.75"/>
<line x1="721.90" y1="209.90" x2="735.60" y2="209.90" stroke="#30302a" stroke-width="0.8" opacity="0.75"/>
<line x1="721.90" y1="232.20" x2="735.60" y2="232.20" stroke="#30302a" stroke-width="0.8" opacity="0.75"/>
<line x1="721.90" y1="254.00" x2="735.60" y2="254.00" stroke="#30302a" stroke-width="0.8" opacity="0.75"/>
<line x1="721.90" y1="276.10" x2="735.60" y2="276.10" stroke="#30302a" stroke-width="0.8" opacity="0.75"/>
<text x="739.30" y="150.30" font-size="13.4" textLength="14.6" lengthAdjust="spacingAndGlyphs" fill="#111" >28</text>
<text x="739.30" y="172.20" font-size="13.4" textLength="14.6" lengthAdjust="spacingAndGlyphs" fill="#111" >24</text>
<text x="739.30" y="193.80" font-size="13.4" textLength="14.6" lengthAdjust="spacingAndGlyphs" fill="#111" >20</text>
<text x="739.30" y="214.90" font-size="13.4" textLength="14.6" lengthAdjust="spacingAndGlyphs" fill="#111" >16</text>
<text x="739.30" y="237.20" font-size="13.4" textLength="14.6" lengthAdjust="spacingAndGlyphs" fill="#111" >12</text>
<text x="739.30" y="259.00" font-size="13.4" textLength="7.3" lengthAdjust="spacingAndGlyphs" fill="#111" >8</text>
<text x="739.30" y="281.10" font-size="13.4" textLength="7.3" lengthAdjust="spacingAndGlyphs" fill="#111" >4</text>
<rect x="721.90" y="329.70" width="13.70" height="20.00" fill="#0000ff" />
<rect x="721.90" y="349.70" width="13.70" height="19.30" fill="#2649b6" />
<rect x="721.90" y="369.00" width="13.70" height="19.10" fill="#4a9470" />
<rect x="721.90" y="388.10" width="13.70" height="19.30" fill="#6bd32f" />
<rect x="721.90" y="407.40" width="13.70" height="19.50" fill="#cccbc4" />
<rect x="721.90" y="426.90" width="13.70" height="19.30" fill="#ffb90f" />
<rect x="721.90" y="446.20" width="13.70" height="19.80" fill="#ff7d0a" />
<rect x="721.90" y="466.00" width="13.70" height="19.10" fill="#ff4000" />
<rect x="721.90" y="485.10" width="13.70" height="19.30" fill="#ff0000" />
<line x1="721.90" y1="349.70" x2="735.60" y2="349.70" stroke="#30302a" stroke-width="0.8" opacity="0.75"/>
<line x1="721.90" y1="369.00" x2="735.60" y2="369.00" stroke="#30302a" stroke-width="0.8" opacity="0.75"/>
<line x1="721.90" y1="388.10" x2="735.60" y2="388.10" stroke="#30302a" stroke-width="0.8" opacity="0.75"/>
<line x1="721.90" y1="407.40" x2="735.60" y2="407.40" stroke="#30302a" stroke-width="0.8" opacity="0.75"/>
<line x1="721.90" y1="426.90" x2="735.60" y2="426.90" stroke="#30302a" stroke-width="0.8" opacity="0.75"/>
<line x1="721.90" y1="446.20" x2="735.60" y2="446.20" stroke="#30302a" stroke-width="0.8" opacity="0.75"/>
<line x1="721.90" y1="466.00" x2="735.60" y2="466.00" stroke="#30302a" stroke-width="0.8" opacity="0.75"/>
<line x1="721.90" y1="485.10" x2="735.60" y2="485.10" stroke="#30302a" stroke-width="0.8" opacity="0.75"/>
<text x="738.50" y="354.70" font-size="13.4" textLength="24.0" lengthAdjust="spacingAndGlyphs" fill="#111" >200</text>
<text x="738.50" y="374.00" font-size="13.4" textLength="24.0" lengthAdjust="spacingAndGlyphs" fill="#111" >100</text>
<text x="738.50" y="393.10" font-size="13.4" textLength="15.3" lengthAdjust="spacingAndGlyphs" fill="#111" >50</text>
<text x="738.50" y="412.40" font-size="13.4" textLength="15.3" lengthAdjust="spacingAndGlyphs" fill="#111" >15</text>
<text x="738.50" y="431.90" font-size="13.4" textLength="25.4" lengthAdjust="spacingAndGlyphs" fill="#111" >−15</text>
<text x="738.50" y="451.20" font-size="13.4" textLength="25.4" lengthAdjust="spacingAndGlyphs" fill="#111" >−50</text>
<text x="738.50" y="471.00" font-size="13.4" textLength="34.1" lengthAdjust="spacingAndGlyphs" fill="#111" >−100</text>
<text x="738.50" y="490.10" font-size="13.4" textLength="34.1" lengthAdjust="spacingAndGlyphs" fill="#111" >−200</text>
<rect x="721.9" y="123.2" width="13.7" height="174.8" fill="none" stroke="#000" stroke-opacity="0.5" stroke-width="0.8"/>
<rect x="721.9" y="329.7" width="13.7" height="174.7" fill="none" stroke="#000" stroke-opacity="0.5" stroke-width="0.8"/>
<text transform="translate(767.8,211) rotate(-90)" font-size="13" text-anchor="middle" textLength="68.2" lengthAdjust="spacingAndGlyphs" fill="#111">Power [dB]</text>
<text transform="translate(787,418) rotate(-90)" font-size="13" text-anchor="middle" textLength="100" lengthAdjust="spacingAndGlyphs" fill="#111">Velocity [m s<tspan dy="-5" font-size="9">−1</tspan><tspan dy="5">]</tspan></text>
</svg>
</body></html>
